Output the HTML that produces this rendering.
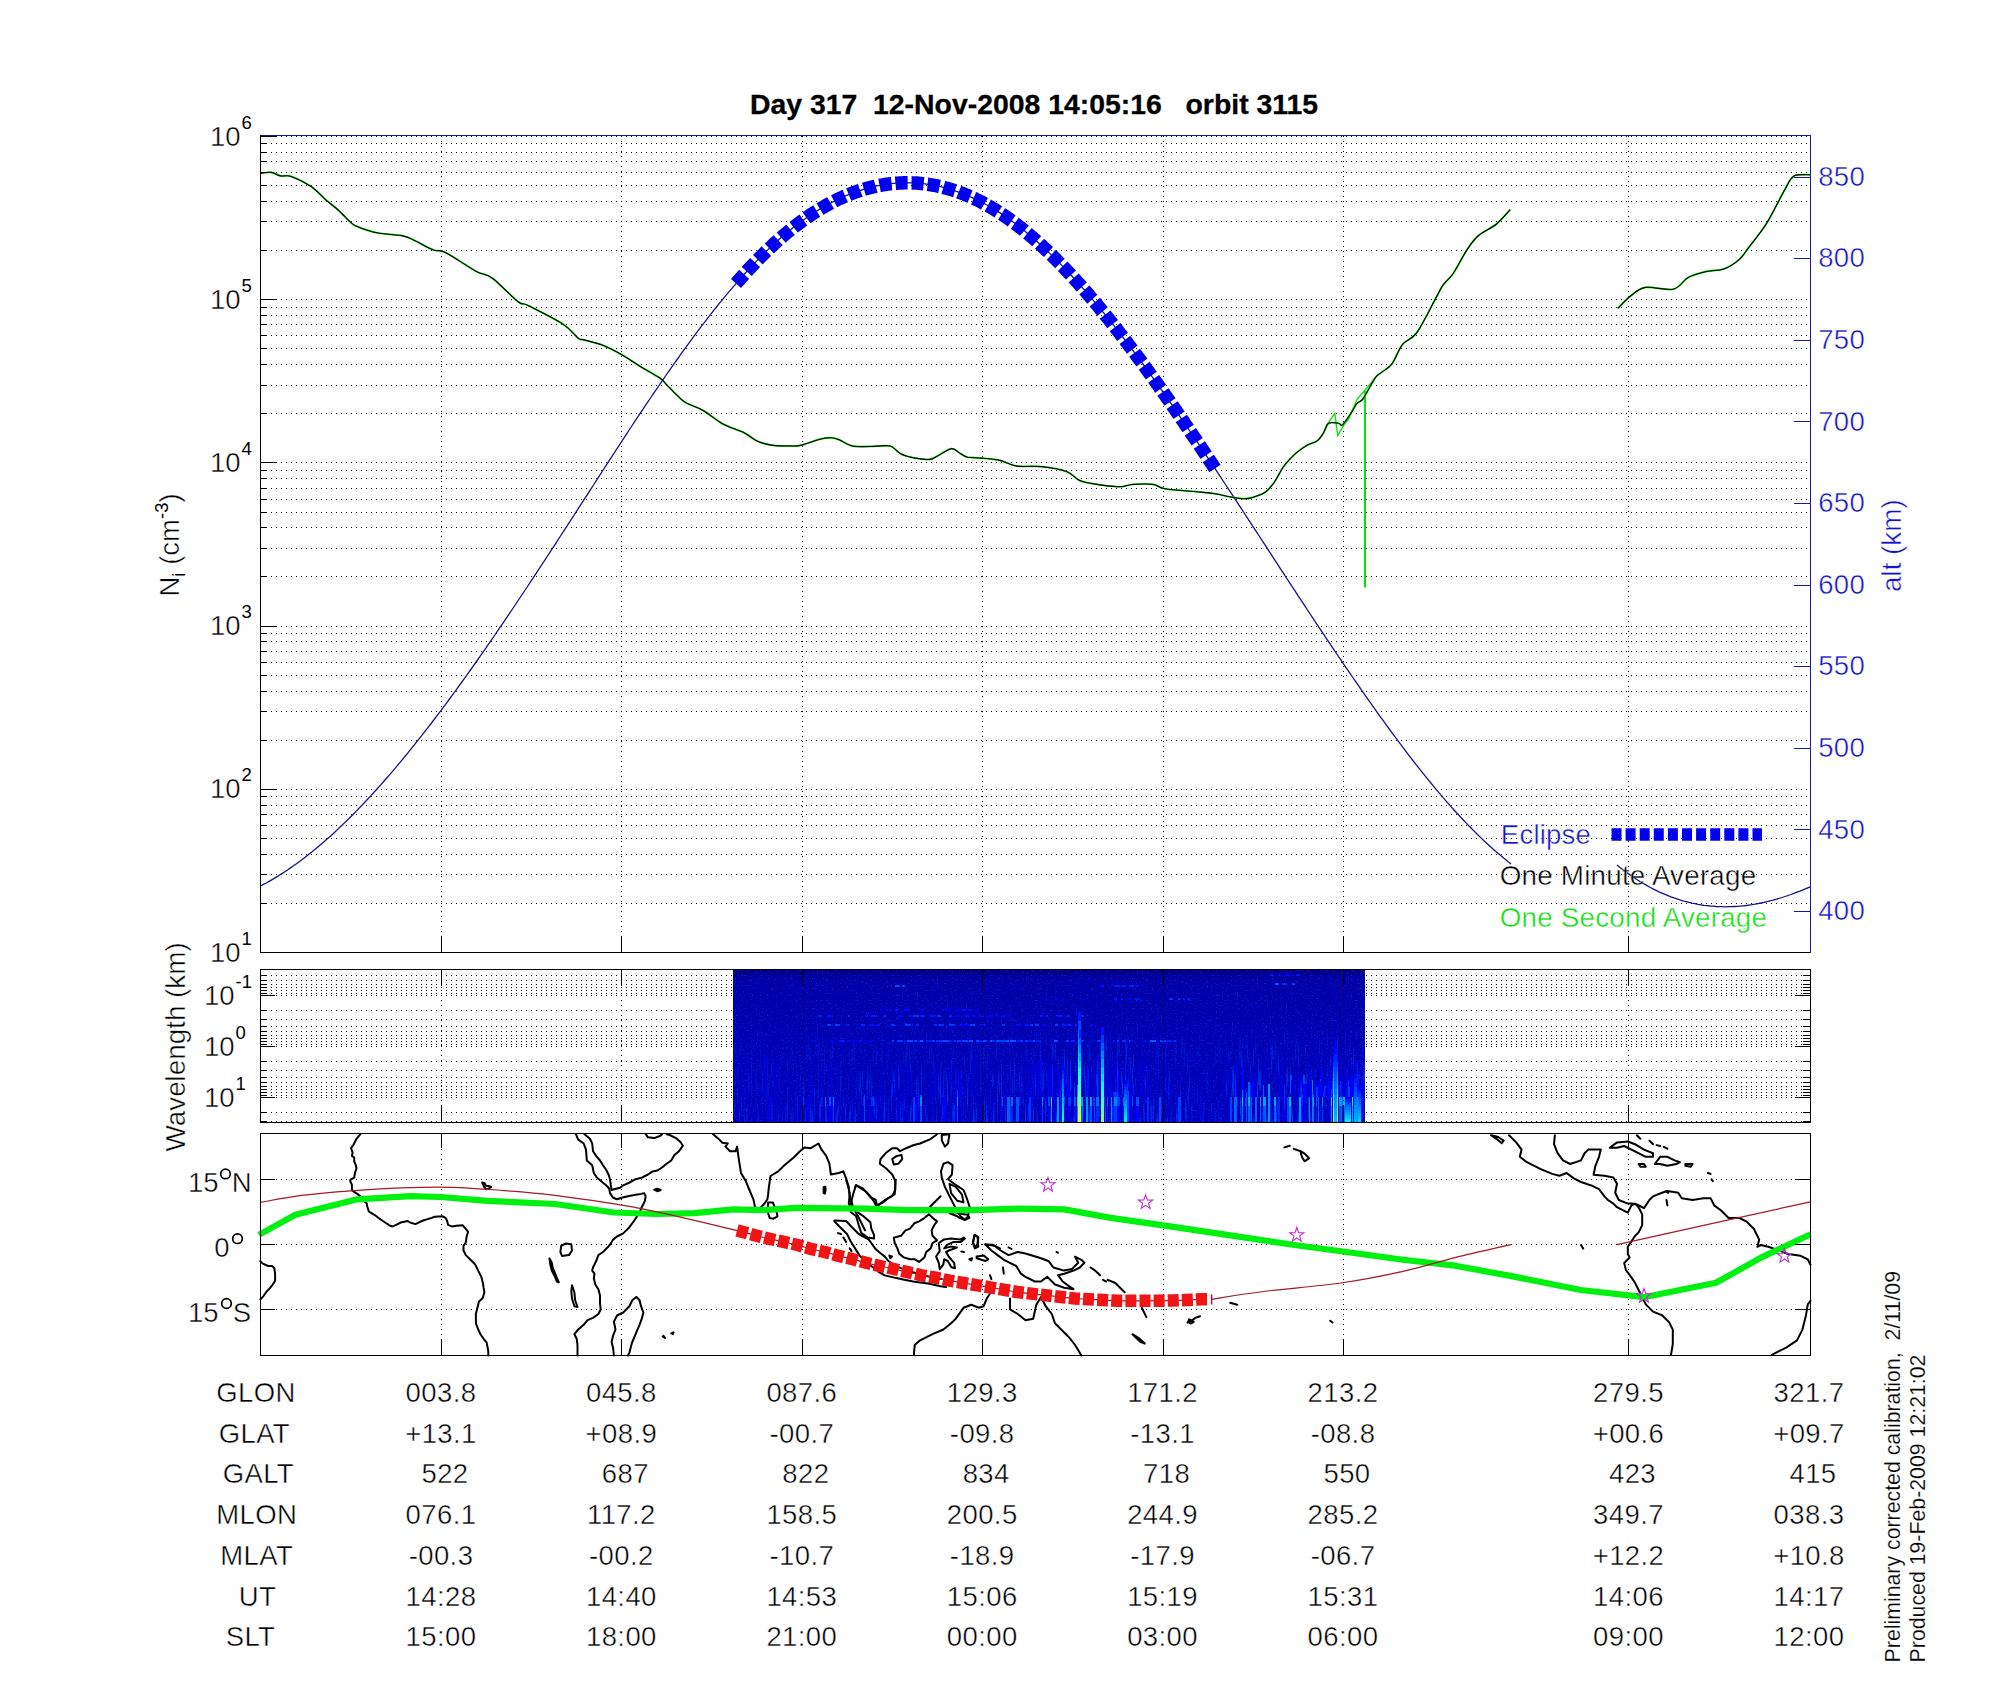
<!DOCTYPE html>
<html><head><meta charset="utf-8"><style>html,body{margin:0;padding:0;background:#fff;overflow:hidden}svg{display:block}</style></head><body>
<svg width="2000" height="1700" viewBox="0 0 2000 1700" font-family="'Liberation Sans', sans-serif">
<style>text{stroke:#fff;stroke-width:0.45px}text.ttl{stroke:#000;stroke-width:0.3px}.sm{stroke:none}text.xs{stroke-width:0.2px}</style>
<rect width="2000" height="1700" fill="#fff"/>
<text class="ttl" x="1034" y="113.5" text-anchor="middle" font-size="28.4" font-weight="bold" xml:space="preserve">Day 317  12-Nov-2008 14:05:16   orbit 3115</text>
<g id="topgrid"><line x1="261" y1="952.5" x2="1810" y2="952.5" stroke="#000" stroke-width="1" stroke-dasharray="1 4" shape-rendering="crispEdges"/><line x1="261" y1="903.5" x2="1810" y2="903.5" stroke="#000" stroke-width="1" stroke-dasharray="1 4" shape-rendering="crispEdges"/><line x1="261" y1="874.5" x2="1810" y2="874.5" stroke="#000" stroke-width="1" stroke-dasharray="1 4" shape-rendering="crispEdges"/><line x1="261" y1="854.5" x2="1810" y2="854.5" stroke="#000" stroke-width="1" stroke-dasharray="1 4" shape-rendering="crispEdges"/><line x1="261" y1="838.5" x2="1810" y2="838.5" stroke="#000" stroke-width="1" stroke-dasharray="1 4" shape-rendering="crispEdges"/><line x1="261" y1="825.5" x2="1810" y2="825.5" stroke="#000" stroke-width="1" stroke-dasharray="1 4" shape-rendering="crispEdges"/><line x1="261" y1="814.5" x2="1810" y2="814.5" stroke="#000" stroke-width="1" stroke-dasharray="1 4" shape-rendering="crispEdges"/><line x1="261" y1="805.5" x2="1810" y2="805.5" stroke="#000" stroke-width="1" stroke-dasharray="1 4" shape-rendering="crispEdges"/><line x1="261" y1="796.5" x2="1810" y2="796.5" stroke="#000" stroke-width="1" stroke-dasharray="1 4" shape-rendering="crispEdges"/><line x1="261" y1="789.5" x2="1810" y2="789.5" stroke="#000" stroke-width="1" stroke-dasharray="1 4" shape-rendering="crispEdges"/><line x1="261" y1="740.5" x2="1810" y2="740.5" stroke="#000" stroke-width="1" stroke-dasharray="1 4" shape-rendering="crispEdges"/><line x1="261" y1="711.5" x2="1810" y2="711.5" stroke="#000" stroke-width="1" stroke-dasharray="1 4" shape-rendering="crispEdges"/><line x1="261" y1="691.5" x2="1810" y2="691.5" stroke="#000" stroke-width="1" stroke-dasharray="1 4" shape-rendering="crispEdges"/><line x1="261" y1="675.5" x2="1810" y2="675.5" stroke="#000" stroke-width="1" stroke-dasharray="1 4" shape-rendering="crispEdges"/><line x1="261" y1="662.5" x2="1810" y2="662.5" stroke="#000" stroke-width="1" stroke-dasharray="1 4" shape-rendering="crispEdges"/><line x1="261" y1="651.5" x2="1810" y2="651.5" stroke="#000" stroke-width="1" stroke-dasharray="1 4" shape-rendering="crispEdges"/><line x1="261" y1="641.5" x2="1810" y2="641.5" stroke="#000" stroke-width="1" stroke-dasharray="1 4" shape-rendering="crispEdges"/><line x1="261" y1="633.5" x2="1810" y2="633.5" stroke="#000" stroke-width="1" stroke-dasharray="1 4" shape-rendering="crispEdges"/><line x1="261" y1="626.5" x2="1810" y2="626.5" stroke="#000" stroke-width="1" stroke-dasharray="1 4" shape-rendering="crispEdges"/><line x1="261" y1="576.5" x2="1810" y2="576.5" stroke="#000" stroke-width="1" stroke-dasharray="1 4" shape-rendering="crispEdges"/><line x1="261" y1="548.5" x2="1810" y2="548.5" stroke="#000" stroke-width="1" stroke-dasharray="1 4" shape-rendering="crispEdges"/><line x1="261" y1="527.5" x2="1810" y2="527.5" stroke="#000" stroke-width="1" stroke-dasharray="1 4" shape-rendering="crispEdges"/><line x1="261" y1="512.5" x2="1810" y2="512.5" stroke="#000" stroke-width="1" stroke-dasharray="1 4" shape-rendering="crispEdges"/><line x1="261" y1="499.5" x2="1810" y2="499.5" stroke="#000" stroke-width="1" stroke-dasharray="1 4" shape-rendering="crispEdges"/><line x1="261" y1="488.5" x2="1810" y2="488.5" stroke="#000" stroke-width="1" stroke-dasharray="1 4" shape-rendering="crispEdges"/><line x1="261" y1="478.5" x2="1810" y2="478.5" stroke="#000" stroke-width="1" stroke-dasharray="1 4" shape-rendering="crispEdges"/><line x1="261" y1="470.5" x2="1810" y2="470.5" stroke="#000" stroke-width="1" stroke-dasharray="1 4" shape-rendering="crispEdges"/><line x1="261" y1="462.5" x2="1810" y2="462.5" stroke="#000" stroke-width="1" stroke-dasharray="1 4" shape-rendering="crispEdges"/><line x1="261" y1="413.5" x2="1810" y2="413.5" stroke="#000" stroke-width="1" stroke-dasharray="1 4" shape-rendering="crispEdges"/><line x1="261" y1="385.5" x2="1810" y2="385.5" stroke="#000" stroke-width="1" stroke-dasharray="1 4" shape-rendering="crispEdges"/><line x1="261" y1="364.5" x2="1810" y2="364.5" stroke="#000" stroke-width="1" stroke-dasharray="1 4" shape-rendering="crispEdges"/><line x1="261" y1="348.5" x2="1810" y2="348.5" stroke="#000" stroke-width="1" stroke-dasharray="1 4" shape-rendering="crispEdges"/><line x1="261" y1="335.5" x2="1810" y2="335.5" stroke="#000" stroke-width="1" stroke-dasharray="1 4" shape-rendering="crispEdges"/><line x1="261" y1="324.5" x2="1810" y2="324.5" stroke="#000" stroke-width="1" stroke-dasharray="1 4" shape-rendering="crispEdges"/><line x1="261" y1="315.5" x2="1810" y2="315.5" stroke="#000" stroke-width="1" stroke-dasharray="1 4" shape-rendering="crispEdges"/><line x1="261" y1="307.5" x2="1810" y2="307.5" stroke="#000" stroke-width="1" stroke-dasharray="1 4" shape-rendering="crispEdges"/><line x1="261" y1="299.5" x2="1810" y2="299.5" stroke="#000" stroke-width="1" stroke-dasharray="1 4" shape-rendering="crispEdges"/><line x1="261" y1="250.5" x2="1810" y2="250.5" stroke="#000" stroke-width="1" stroke-dasharray="1 4" shape-rendering="crispEdges"/><line x1="261" y1="221.5" x2="1810" y2="221.5" stroke="#000" stroke-width="1" stroke-dasharray="1 4" shape-rendering="crispEdges"/><line x1="261" y1="201.5" x2="1810" y2="201.5" stroke="#000" stroke-width="1" stroke-dasharray="1 4" shape-rendering="crispEdges"/><line x1="261" y1="185.5" x2="1810" y2="185.5" stroke="#000" stroke-width="1" stroke-dasharray="1 4" shape-rendering="crispEdges"/><line x1="261" y1="172.5" x2="1810" y2="172.5" stroke="#000" stroke-width="1" stroke-dasharray="1 4" shape-rendering="crispEdges"/><line x1="261" y1="161.5" x2="1810" y2="161.5" stroke="#000" stroke-width="1" stroke-dasharray="1 4" shape-rendering="crispEdges"/><line x1="261" y1="152.5" x2="1810" y2="152.5" stroke="#000" stroke-width="1" stroke-dasharray="1 4" shape-rendering="crispEdges"/><line x1="261" y1="143.5" x2="1810" y2="143.5" stroke="#000" stroke-width="1" stroke-dasharray="1 4" shape-rendering="crispEdges"/><line x1="261" y1="136.5" x2="1810" y2="136.5" stroke="#000" stroke-width="1" stroke-dasharray="1 4" shape-rendering="crispEdges"/><line x1="441.5" y1="136" x2="441.5" y2="952" stroke="#000" stroke-width="1" stroke-dasharray="1 4" shape-rendering="crispEdges"/><line x1="621.5" y1="136" x2="621.5" y2="952" stroke="#000" stroke-width="1" stroke-dasharray="1 4" shape-rendering="crispEdges"/><line x1="802.5" y1="136" x2="802.5" y2="952" stroke="#000" stroke-width="1" stroke-dasharray="1 4" shape-rendering="crispEdges"/><line x1="982.5" y1="136" x2="982.5" y2="952" stroke="#000" stroke-width="1" stroke-dasharray="1 4" shape-rendering="crispEdges"/><line x1="1163.5" y1="136" x2="1163.5" y2="952" stroke="#000" stroke-width="1" stroke-dasharray="1 4" shape-rendering="crispEdges"/><line x1="1343.5" y1="136" x2="1343.5" y2="952" stroke="#000" stroke-width="1" stroke-dasharray="1 4" shape-rendering="crispEdges"/><line x1="1628.5" y1="136" x2="1628.5" y2="952" stroke="#000" stroke-width="1" stroke-dasharray="1 4" shape-rendering="crispEdges"/></g>
<g id="topcurves"><path d="M260.5,886.0 L263.5,884.4 L266.5,882.8 L269.5,881.1 L272.5,879.4 L275.5,877.6 L278.5,875.8 L281.5,873.9 L284.5,872.0 L287.5,870.0 L290.5,867.9 L293.5,865.8 L296.5,863.7 L299.5,861.5 L302.5,859.3 L305.5,857.0 L308.5,854.6 L311.5,852.2 L314.5,849.8 L317.5,847.3 L320.5,844.8 L323.5,842.2 L326.5,839.6 L329.5,836.9 L332.5,834.2 L335.5,831.4 L338.5,828.6 L341.5,825.8 L344.5,822.9 L347.5,820.0 L350.5,817.0 L353.5,814.0 L356.5,810.9 L359.5,807.8 L362.5,804.7 L365.5,801.5 L368.5,798.3 L371.5,795.1 L374.5,791.8 L377.5,788.5 L380.5,785.1 L383.5,781.7 L386.5,778.3 L389.5,774.8 L392.5,771.3 L395.5,767.8 L398.5,764.2 L401.5,760.6 L404.5,757.0 L407.5,753.4 L410.5,749.7 L413.5,745.9 L416.5,742.2 L419.5,738.4 L422.5,734.6 L425.5,730.7 L428.5,726.9 L431.5,723.0 L434.5,719.0 L437.5,715.1 L440.5,711.1 L443.5,707.1 L446.5,703.1 L449.5,699.0 L452.5,694.9 L455.5,690.8 L458.5,686.7 L461.5,682.5 L464.5,678.4 L467.5,674.2 L470.5,670.0 L473.5,665.7 L476.5,661.5 L479.5,657.2 L482.5,652.9 L485.5,648.6 L488.5,644.2 L491.5,639.9 L494.5,635.5 L497.5,631.1 L500.5,626.7 L503.5,622.3 L506.5,617.9 L509.5,613.4 L512.5,609.0 L515.5,604.5 L518.5,600.0 L521.5,595.5 L524.5,591.0 L527.5,586.5 L530.5,581.9 L533.5,577.4 L536.5,572.8 L539.5,568.2 L542.5,563.7 L545.5,559.1 L548.5,554.5 L551.5,549.9 L554.5,545.3 L557.5,540.7 L560.5,536.0 L563.5,531.4 L566.5,526.8 L569.5,522.2 L572.5,517.5 L575.5,512.9 L578.5,508.2 L581.5,503.6 L584.5,498.9 L587.5,494.3 L590.5,489.6 L593.5,485.0 L596.5,480.3 L599.5,475.7 L602.5,471.0 L605.5,466.4 L608.5,461.7 L611.5,457.1 L614.5,452.5 L617.5,447.9 L620.5,443.3 L623.5,438.7 L626.5,434.1 L629.5,429.5 L632.5,425.0 L635.5,420.4 L638.5,415.9 L641.5,411.4 L644.5,406.9 L647.5,402.4 L650.5,398.0 L653.5,393.6 L656.5,389.1 L659.5,384.8 L662.5,380.4 L665.5,376.0 L668.5,371.7 L671.5,367.4 L674.5,363.2 L677.5,359.0 L680.5,354.7 L683.5,350.6 L686.5,346.4 L689.5,342.3 L692.5,338.2 L695.5,334.2 L698.5,330.2 L701.5,326.2 L704.5,322.3 L707.5,318.4 L710.5,314.6 L713.5,310.7 L716.5,307.0 L719.5,303.2 L722.5,299.6 L725.5,295.9 L728.5,292.3 L731.5,288.8 L734.5,285.3 L737.5,281.8 L740.5,278.4 L743.5,275.0 L746.5,271.7 L749.5,268.5 L752.5,265.3 L755.5,262.1 L758.5,259.1 L761.5,256.0 L764.5,253.1 L767.5,250.1 L770.5,247.3 L773.5,244.5 L776.5,241.7 L779.5,239.1 L782.5,236.5 L785.5,233.9 L788.5,231.4 L791.5,229.0 L794.5,226.6 L797.5,224.3 L800.5,222.1 L803.5,219.9 L806.5,217.8 L809.5,215.7 L812.5,213.7 L815.5,211.8 L818.5,209.9 L821.5,208.1 L824.5,206.4 L827.5,204.7 L830.5,203.1 L833.5,201.5 L836.5,200.0 L839.5,198.6 L842.5,197.2 L845.5,195.9 L848.5,194.7 L851.5,193.5 L854.5,192.4 L857.5,191.3 L860.5,190.3 L863.5,189.4 L866.5,188.5 L869.5,187.7 L872.5,186.9 L875.5,186.2 L878.5,185.6 L881.5,185.1 L884.5,184.6 L887.5,184.1 L890.5,183.7 L893.5,183.4 L896.5,183.2 L899.5,183.0 L902.5,182.9 L905.5,182.8 L908.5,182.8 L911.5,182.9 L914.5,183.0 L917.5,183.2 L920.5,183.4 L923.5,183.7 L926.5,184.1 L929.5,184.6 L932.5,185.1 L935.5,185.6 L938.5,186.2 L941.5,186.9 L944.5,187.7 L947.5,188.5 L950.5,189.4 L953.5,190.3 L956.5,191.3 L959.5,192.4 L962.5,193.5 L965.5,194.7 L968.5,196.0 L971.5,197.3 L974.5,198.6 L977.5,200.1 L980.5,201.6 L983.5,203.2 L986.5,204.8 L989.5,206.5 L992.5,208.2 L995.5,210.1 L998.5,211.9 L1001.5,213.9 L1004.5,215.9 L1007.5,218.0 L1010.5,220.1 L1013.5,222.3 L1016.5,224.5 L1019.5,226.9 L1022.5,229.2 L1025.5,231.7 L1028.5,234.2 L1031.5,236.7 L1034.5,239.3 L1037.5,242.0 L1040.5,244.7 L1043.5,247.4 L1046.5,250.2 L1049.5,253.1 L1052.5,256.0 L1055.5,259.0 L1058.5,262.0 L1061.5,265.1 L1064.5,268.2 L1067.5,271.4 L1070.5,274.6 L1073.5,277.8 L1076.5,281.1 L1079.5,284.5 L1082.5,287.9 L1085.5,291.3 L1088.5,294.8 L1091.5,298.3 L1094.5,301.8 L1097.5,305.4 L1100.5,309.0 L1103.5,312.7 L1106.5,316.4 L1109.5,320.1 L1112.5,323.9 L1115.5,327.7 L1118.5,331.6 L1121.5,335.5 L1124.5,339.4 L1127.5,343.3 L1130.5,347.3 L1133.5,351.3 L1136.5,355.3 L1139.5,359.4 L1142.5,363.5 L1145.5,367.6 L1148.5,371.7 L1151.5,375.9 L1154.5,380.1 L1157.5,384.3 L1160.5,388.5 L1163.5,392.8 L1166.5,397.1 L1169.5,401.4 L1172.5,405.7 L1175.5,410.0 L1178.5,414.4 L1181.5,418.8 L1184.5,423.2 L1187.5,427.6 L1190.5,432.0 L1193.5,436.4 L1196.5,440.9 L1199.5,445.3 L1202.5,449.8 L1205.5,454.3 L1208.5,458.8 L1211.5,463.3 L1214.5,467.8 L1217.5,472.4 L1220.5,476.9 L1223.5,481.5 L1226.5,486.0 L1229.5,490.6 L1232.5,495.2 L1235.5,499.7 L1238.5,504.3 L1241.5,508.9 L1244.5,513.5 L1247.5,518.1 L1250.5,522.7 L1253.5,527.3 L1256.5,531.9 L1259.5,536.5 L1262.5,541.1 L1265.5,545.7 L1268.5,550.3 L1271.5,554.9 L1274.5,559.6 L1277.5,564.2 L1280.5,568.8 L1283.5,573.4 L1286.5,578.0 L1289.5,582.6 L1292.5,587.1 L1295.5,591.7 L1298.5,596.3 L1301.5,600.9 L1304.5,605.4 L1307.5,610.0 L1310.5,614.5 L1313.5,619.1 L1316.5,623.6 L1319.5,628.1 L1322.5,632.6 L1325.5,637.1 L1328.5,641.6 L1331.5,646.1 L1334.5,650.6 L1337.5,655.0 L1340.5,659.4 L1343.5,663.9 L1346.5,668.3 L1349.5,672.7 L1352.5,677.0 L1355.5,681.4 L1358.5,685.7 L1361.5,690.1 L1364.5,694.4 L1367.5,698.7 L1370.5,702.9 L1373.5,707.2 L1376.5,711.4 L1379.5,715.6 L1382.5,719.7 L1385.5,723.9 L1388.5,728.0 L1391.5,732.1 L1394.5,736.2 L1397.5,740.2 L1400.5,744.2 L1403.5,748.2 L1406.5,752.2 L1409.5,756.1 L1412.5,760.0 L1415.5,763.8 L1418.5,767.6 L1421.5,771.4 L1424.5,775.2 L1427.5,778.9 L1430.5,782.5 L1433.5,786.2 L1436.5,789.8 L1439.5,793.3 L1442.5,796.8 L1445.5,800.3 L1448.5,803.7 L1451.5,807.1 L1454.5,810.5 L1457.5,813.8 L1460.5,817.0 L1463.5,820.2 L1466.5,823.4 L1469.5,826.5 L1472.5,829.5 L1475.5,832.5 L1478.5,835.5 L1481.5,838.4 L1484.5,841.2 L1487.5,844.0 L1490.5,846.8 L1493.5,849.4 L1496.5,852.1 L1499.5,854.6 L1502.5,857.1 L1505.5,859.6 L1508.5,862.0 L1511.0,863.9" fill="none" stroke="#14148c" stroke-width="1.3"/>
<path d="M1617.0,865.0 L1620.0,867.4 L1623.0,869.7 L1626.0,872.0 L1629.0,874.1 L1632.0,876.2 L1635.0,878.3 L1638.0,880.2 L1641.0,882.1 L1644.0,883.9 L1647.0,885.6 L1650.0,887.2 L1653.0,888.8 L1656.0,890.3 L1659.0,891.8 L1662.0,893.1 L1665.0,894.4 L1668.0,895.6 L1671.0,896.8 L1674.0,897.9 L1677.0,898.9 L1680.0,899.9 L1683.0,900.8 L1686.0,901.6 L1689.0,902.4 L1692.0,903.1 L1695.0,903.7 L1698.0,904.3 L1701.0,904.8 L1704.0,905.3 L1707.0,905.6 L1710.0,906.0 L1713.0,906.2 L1716.0,906.5 L1719.0,906.6 L1722.0,906.7 L1725.0,906.8 L1728.0,906.7 L1731.0,906.7 L1734.0,906.5 L1737.0,906.4 L1740.0,906.1 L1743.0,905.8 L1746.0,905.5 L1749.0,905.1 L1752.0,904.7 L1755.0,904.2 L1758.0,903.6 L1761.0,903.0 L1764.0,902.4 L1767.0,901.7 L1770.0,900.9 L1773.0,900.2 L1776.0,899.3 L1779.0,898.4 L1782.0,897.5 L1785.0,896.5 L1788.0,895.5 L1791.0,894.5 L1794.0,893.4 L1797.0,892.2 L1800.0,891.1 L1803.0,889.8 L1806.0,888.6 L1809.0,887.3 L1810.0,886.8" fill="none" stroke="#14148c" stroke-width="1.3"/>
<path d="M1215.0,468.6 L1214.0,467.1 L1213.0,465.6 L1212.0,464.1 L1211.0,462.6 L1210.0,461.1 L1209.0,459.6 L1208.0,458.1 L1207.0,456.6 L1206.0,455.1 L1205.0,453.6 L1204.0,452.1 L1203.0,450.6 L1202.0,449.1 L1201.0,447.6 L1200.0,446.1 L1199.0,444.6 L1198.0,443.1 L1197.0,441.6 L1196.0,440.1 L1195.0,438.6 L1194.0,437.2 L1193.0,435.7 L1192.0,434.2 L1191.0,432.7 L1190.0,431.2 L1189.0,429.8 L1188.0,428.3 L1187.0,426.8 L1186.0,425.4 L1185.0,423.9 L1184.0,422.4 L1183.0,421.0 L1182.0,419.5 L1181.0,418.0 L1180.0,416.6 L1179.0,415.1 L1178.0,413.7 L1177.0,412.2 L1176.0,410.7 L1175.0,409.3 L1174.0,407.9 L1173.0,406.4 L1172.0,405.0 L1171.0,403.5 L1170.0,402.1 L1169.0,400.6 L1168.0,399.2 L1167.0,397.8 L1166.0,396.3 L1165.0,394.9 L1164.0,393.5 L1163.0,392.1 L1162.0,390.6 L1161.0,389.2 L1160.0,387.8 L1159.0,386.4 L1158.0,385.0 L1157.0,383.6 L1156.0,382.2 L1155.0,380.8 L1154.0,379.4 L1153.0,378.0 L1152.0,376.6 L1151.0,375.2 L1150.0,373.8 L1149.0,372.4 L1148.0,371.0 L1147.0,369.6 L1146.0,368.3 L1145.0,366.9 L1144.0,365.5 L1143.0,364.1 L1142.0,362.8 L1141.0,361.4 L1140.0,360.0 L1139.0,358.7 L1138.0,357.3 L1137.0,356.0 L1136.0,354.6 L1135.0,353.3 L1134.0,351.9 L1133.0,350.6 L1132.0,349.3 L1131.0,347.9 L1130.0,346.6 L1129.0,345.3 L1128.0,344.0 L1127.0,342.6 L1126.0,341.3 L1125.0,340.0 L1124.0,338.7 L1123.0,337.4 L1122.0,336.1 L1121.0,334.8 L1120.0,333.5 L1119.0,332.2 L1118.0,330.9 L1117.0,329.6 L1116.0,328.4 L1115.0,327.1 L1114.0,325.8 L1113.0,324.6 L1112.0,323.3 L1111.0,322.0 L1110.0,320.8 L1109.0,319.5 L1108.0,318.3 L1107.0,317.0 L1106.0,315.8 L1105.0,314.5 L1104.0,313.3 L1103.0,312.1 L1102.0,310.9 L1101.0,309.6 L1100.0,308.4 L1099.0,307.2 L1098.0,306.0 L1097.0,304.8 L1096.0,303.6 L1095.0,302.4 L1094.0,301.2 L1093.0,300.0 L1092.0,298.9 L1091.0,297.7 L1090.0,296.5 L1089.0,295.3 L1088.0,294.2 L1087.0,293.0 L1086.0,291.9 L1085.0,290.7 L1084.0,289.6 L1083.0,288.4 L1082.0,287.3 L1081.0,286.2 L1080.0,285.0 L1079.0,283.9 L1078.0,282.8 L1077.0,281.7 L1076.0,280.6 L1075.0,279.5 L1074.0,278.4 L1073.0,277.3 L1072.0,276.2 L1071.0,275.1 L1070.0,274.0 L1069.0,273.0 L1068.0,271.9 L1067.0,270.8 L1066.0,269.8 L1065.0,268.7 L1064.0,267.7 L1063.0,266.6 L1062.0,265.6 L1061.0,264.6 L1060.0,263.5 L1059.0,262.5 L1058.0,261.5 L1057.0,260.5 L1056.0,259.5 L1055.0,258.5 L1054.0,257.5 L1053.0,256.5 L1052.0,255.5 L1051.0,254.6 L1050.0,253.6 L1049.0,252.6 L1048.0,251.7 L1047.0,250.7 L1046.0,249.8 L1045.0,248.8 L1044.0,247.9 L1043.0,247.0 L1042.0,246.0 L1041.0,245.1 L1040.0,244.2 L1039.0,243.3 L1038.0,242.4 L1037.0,241.5 L1036.0,240.6 L1035.0,239.7 L1034.0,238.9 L1033.0,238.0 L1032.0,237.1 L1031.0,236.3 L1030.0,235.4 L1029.0,234.6 L1028.0,233.7 L1027.0,232.9 L1026.0,232.1 L1025.0,231.3 L1024.0,230.4 L1023.0,229.6 L1022.0,228.8 L1021.0,228.0 L1020.0,227.3 L1019.0,226.5 L1018.0,225.7 L1017.0,224.9 L1016.0,224.2 L1015.0,223.4 L1014.0,222.7 L1013.0,221.9 L1012.0,221.2 L1011.0,220.5 L1010.0,219.7 L1009.0,219.0 L1008.0,218.3 L1007.0,217.6 L1006.0,216.9 L1005.0,216.2 L1004.0,215.6 L1003.0,214.9 L1002.0,214.2 L1001.0,213.6 L1000.0,212.9 L999.0,212.3 L998.0,211.6 L997.0,211.0 L996.0,210.4 L995.0,209.8 L994.0,209.1 L993.0,208.5 L992.0,207.9 L991.0,207.4 L990.0,206.8 L989.0,206.2 L988.0,205.6 L987.0,205.1 L986.0,204.5 L985.0,204.0 L984.0,203.4 L983.0,202.9 L982.0,202.4 L981.0,201.9 L980.0,201.3 L979.0,200.8 L978.0,200.3 L977.0,199.8 L976.0,199.4 L975.0,198.9 L974.0,198.4 L973.0,198.0 L972.0,197.5 L971.0,197.0 L970.0,196.6 L969.0,196.2 L968.0,195.7 L967.0,195.3 L966.0,194.9 L965.0,194.5 L964.0,194.1 L963.0,193.7 L962.0,193.3 L961.0,192.9 L960.0,192.6 L959.0,192.2 L958.0,191.8 L957.0,191.5 L956.0,191.1 L955.0,190.8 L954.0,190.5 L953.0,190.2 L952.0,189.8 L951.0,189.5 L950.0,189.2 L949.0,188.9 L948.0,188.6 L947.0,188.4 L946.0,188.1 L945.0,187.8 L944.0,187.6 L943.0,187.3 L942.0,187.1 L941.0,186.8 L940.0,186.6 L939.0,186.4 L938.0,186.1 L937.0,185.9 L936.0,185.7 L935.0,185.5 L934.0,185.3 L933.0,185.1 L932.0,185.0 L931.0,184.8 L930.0,184.6 L929.0,184.5 L928.0,184.3 L927.0,184.2 L926.0,184.1 L925.0,183.9 L924.0,183.8 L923.0,183.7 L922.0,183.6 L921.0,183.5 L920.0,183.4 L919.0,183.3 L918.0,183.2 L917.0,183.1 L916.0,183.1 L915.0,183.0 L914.0,183.0 L913.0,182.9 L912.0,182.9 L911.0,182.9 L910.0,182.8 L909.0,182.8 L908.0,182.8 L907.0,182.8 L906.0,182.8 L905.0,182.8 L904.0,182.8 L903.0,182.9 L902.0,182.9 L901.0,182.9 L900.0,183.0 L899.0,183.0 L898.0,183.1 L897.0,183.2 L896.0,183.2 L895.0,183.3 L894.0,183.4 L893.0,183.5 L892.0,183.6 L891.0,183.7 L890.0,183.8 L889.0,183.9 L888.0,184.1 L887.0,184.2 L886.0,184.3 L885.0,184.5 L884.0,184.6 L883.0,184.8 L882.0,185.0 L881.0,185.2 L880.0,185.3 L879.0,185.5 L878.0,185.7 L877.0,185.9 L876.0,186.1 L875.0,186.4 L874.0,186.6 L873.0,186.8 L872.0,187.1 L871.0,187.3 L870.0,187.6 L869.0,187.8 L868.0,188.1 L867.0,188.4 L866.0,188.6 L865.0,188.9 L864.0,189.2 L863.0,189.5 L862.0,189.8 L861.0,190.1 L860.0,190.5 L859.0,190.8 L858.0,191.1 L857.0,191.5 L856.0,191.8 L855.0,192.2 L854.0,192.5 L853.0,192.9 L852.0,193.3 L851.0,193.7 L850.0,194.1 L849.0,194.5 L848.0,194.9 L847.0,195.3 L846.0,195.7 L845.0,196.1 L844.0,196.6 L843.0,197.0 L842.0,197.5 L841.0,197.9 L840.0,198.4 L839.0,198.8 L838.0,199.3 L837.0,199.8 L836.0,200.3 L835.0,200.8 L834.0,201.3 L833.0,201.8 L832.0,202.3 L831.0,202.8 L830.0,203.4 L829.0,203.9 L828.0,204.4 L827.0,205.0 L826.0,205.5 L825.0,206.1 L824.0,206.7 L823.0,207.3 L822.0,207.8 L821.0,208.4 L820.0,209.0 L819.0,209.6 L818.0,210.3 L817.0,210.9 L816.0,211.5 L815.0,212.1 L814.0,212.8 L813.0,213.4 L812.0,214.1 L811.0,214.7 L810.0,215.4 L809.0,216.1 L808.0,216.8 L807.0,217.4 L806.0,218.1 L805.0,218.8 L804.0,219.6 L803.0,220.3 L802.0,221.0 L801.0,221.7 L800.0,222.5 L799.0,223.2 L798.0,224.0 L797.0,224.7 L796.0,225.5 L795.0,226.2 L794.0,227.0 L793.0,227.8 L792.0,228.6 L791.0,229.4 L790.0,230.2 L789.0,231.0 L788.0,231.8 L787.0,232.7 L786.0,233.5 L785.0,234.3 L784.0,235.2 L783.0,236.0 L782.0,236.9 L781.0,237.8 L780.0,238.6 L779.0,239.5 L778.0,240.4 L777.0,241.3 L776.0,242.2 L775.0,243.1 L774.0,244.0 L773.0,244.9 L772.0,245.9 L771.0,246.8 L770.0,247.8 L769.0,248.7 L768.0,249.7 L767.0,250.6 L766.0,251.6 L765.0,252.6 L764.0,253.5 L763.0,254.5 L762.0,255.5 L761.0,256.5 L760.0,257.5 L759.0,258.6 L758.0,259.6 L757.0,260.6 L756.0,261.6 L755.0,262.7 L754.0,263.7 L753.0,264.8 L752.0,265.8 L751.0,266.9 L750.0,268.0 L749.0,269.0 L748.0,270.1 L747.0,271.2 L746.0,272.3 L745.0,273.4 L744.0,274.5 L743.0,275.6 L742.0,276.7 L741.0,277.8 L740.0,279.0 L739.0,280.1 L738.0,281.2 L737.0,282.4 L736.0,283.5 L735.0,284.7 L734.0,285.8" fill="none" stroke="#0000ee" stroke-width="13.5" stroke-dasharray="12.2 3.9"/>
<path d="M260.6,173.1 C262.4,173.0 267.9,171.9 271.2,172.4 C274.5,172.9 277.3,175.2 280.6,175.9 C283.9,176.6 286.1,174.6 291.2,176.4 C296.3,178.2 305.5,182.7 311.2,186.5 C316.9,190.3 320.8,195.5 325.3,199.4 C329.8,203.3 333.9,206.1 338.2,210.0 C342.5,213.9 347.9,220.1 351.2,222.9 C354.5,225.7 353.9,225.2 358.2,226.9 C362.5,228.6 369.7,231.3 377.1,232.8 C384.6,234.3 396.6,234.6 402.9,235.9 C409.2,237.2 409.6,238.2 414.7,240.6 C419.8,242.9 428.4,248.0 433.5,250.0 C438.6,252.0 438.2,248.9 445.3,252.4 C452.4,255.9 468.0,266.9 475.9,271.2 C483.8,275.5 485.3,273.1 492.4,278.2 C499.4,283.3 512.3,297.3 518.2,301.8 C524.1,306.3 520.2,301.6 527.6,305.3 C535.0,309.0 554.5,318.6 562.9,324.1 C571.3,329.6 574.7,335.6 578.2,338.2 C581.7,340.8 580.0,338.7 584.1,339.9 C588.2,341.1 596.6,342.8 602.9,345.3 C609.2,347.8 615.6,351.2 621.8,354.7 C628.0,358.2 633.7,362.4 640.0,366.3 C646.3,370.2 655.3,374.9 659.8,378.0 C664.3,381.1 663.7,381.9 667.0,385.2 C670.3,388.5 676.3,394.8 679.6,397.8 C682.9,400.8 682.9,401.1 686.8,403.2 C690.7,405.3 697.0,406.9 703.0,410.4 C709.0,413.8 715.9,420.1 722.8,423.9 C729.7,427.6 738.7,430.0 744.4,432.9 C750.1,435.8 752.5,439.0 757.0,441.0 C761.5,443.0 765.4,444.3 771.4,445.1 C777.4,445.9 787.9,446.0 793.0,446.0 C798.1,446.0 797.5,446.1 802.0,445.0 C806.5,443.9 815.0,440.4 820.0,439.2 C825.0,438.0 828.4,437.6 831.7,437.8 C835.0,438.0 836.3,438.7 839.8,440.1 C843.2,441.5 846.7,444.9 852.4,446.0 C858.1,447.1 867.7,446.4 874.0,446.4 C880.3,446.4 885.7,444.7 890.2,446.0 C894.7,447.3 896.8,452.0 901.0,454.0 C905.2,456.0 910.6,457.2 915.4,458.1 C920.2,459.0 926.2,459.7 929.8,459.4 C933.4,459.1 933.4,458.1 937.0,456.3 C940.6,454.5 947.5,449.1 951.4,448.6 C955.3,448.2 957.7,452.2 960.4,453.6 C963.1,455.0 964.0,456.4 967.6,457.2 C971.2,457.9 976.6,457.6 982.0,458.1 C987.4,458.6 994.1,459.1 1000.0,460.4 C1005.9,461.7 1010.1,465.1 1017.1,466.1 C1024.1,467.1 1033.6,465.7 1041.8,466.6 C1050.0,467.5 1060.3,469.2 1066.5,471.5 C1072.7,473.8 1074.7,478.1 1078.8,480.1 C1082.9,482.1 1084.6,482.3 1091.2,483.4 C1097.8,484.5 1111.3,486.6 1118.3,486.8 C1125.3,487.0 1127.4,484.8 1133.2,484.4 C1139.0,484.0 1147.6,483.7 1152.9,484.4 C1158.2,485.1 1157.9,487.6 1165.3,488.8 C1172.7,490.0 1189.2,491.0 1197.4,491.8 C1205.6,492.6 1209.3,492.9 1214.7,493.7 C1220.1,494.5 1224.9,496.0 1230.0,496.8 C1235.1,497.6 1241.2,498.7 1245.3,498.7 C1249.4,498.7 1251.2,497.9 1254.5,496.8 C1257.8,495.7 1261.9,494.6 1265.2,492.2 C1268.5,489.8 1271.4,486.3 1274.3,482.2 C1277.2,478.1 1280.2,471.5 1282.8,467.7 C1285.3,463.9 1286.9,462.1 1289.6,459.3 C1292.3,456.5 1295.7,453.3 1298.8,450.9 C1301.9,448.5 1304.9,446.5 1308.0,444.8 C1311.1,443.1 1314.7,442.8 1317.2,440.9 C1319.8,439.0 1321.4,436.2 1323.3,433.3 C1325.2,430.4 1326.0,425.0 1328.6,423.3 C1331.1,421.6 1336.3,423.0 1338.6,423.3 C1340.9,423.6 1340.4,426.5 1342.4,424.9 C1344.4,423.2 1348.4,417.0 1350.8,413.4 C1353.2,409.8 1354.9,405.9 1356.9,403.5 C1358.9,401.1 1360.5,402.3 1363.0,398.9 C1365.5,395.4 1369.9,386.6 1372.2,382.8 C1374.5,379.0 1375.0,377.8 1376.8,375.9 C1378.6,374.0 1380.4,373.4 1382.9,371.4 C1385.5,369.4 1388.8,368.2 1392.1,363.7 C1395.4,359.2 1398.5,349.4 1402.6,344.3 C1406.7,339.2 1411.1,340.5 1416.6,332.9 C1422.1,325.3 1431.1,306.8 1435.5,298.8 C1439.9,290.8 1440.1,289.1 1443.1,284.9 C1446.0,280.7 1449.2,279.4 1453.2,273.5 C1457.2,267.6 1463.0,255.7 1467.2,249.4 C1471.4,243.1 1473.7,239.7 1478.5,235.5 C1483.3,231.3 1490.9,228.5 1496.2,224.2 C1501.5,219.9 1507.9,212.1 1510.2,209.7" fill="none" stroke="#10e010" stroke-width="1.8" stroke-linejoin="round"/>
<path d="M1617.7,308.4 C1619.8,306.4 1625.7,299.7 1630.3,296.2 C1634.9,292.7 1638.3,288.6 1645.5,287.4 C1652.7,286.2 1666.1,290.9 1673.3,289.2 C1680.5,287.5 1683.0,280.2 1688.5,277.3 C1694.0,274.4 1700.3,272.9 1706.2,271.5 C1712.1,270.1 1718.4,270.9 1723.9,268.9 C1729.4,266.9 1734.9,263.3 1739.1,259.6 C1743.3,255.9 1744.6,253.0 1749.2,246.9 C1753.8,240.8 1761.0,232.4 1766.9,222.9 C1772.8,213.4 1780.1,197.8 1784.6,190.0 C1789.1,182.2 1789.8,178.5 1794.0,176.0 C1798.2,173.5 1807.3,175.0 1810.0,174.8" fill="none" stroke="#10e010" stroke-width="1.8" stroke-linejoin="round"/>
<path d="M1323.3,433.3 L1329.4,421.0 L1334.8,413.4 L1337.8,435.6 L1343.9,424.9 L1348.5,419.5 L1356.9,399.6 L1364.6,390.5 L1369.9,384.3 L1376.8,375.9" fill="none" stroke="#10e010" stroke-width="1.4"/>
<line x1="1365" y1="391" x2="1365" y2="587.5" stroke="#10e010" stroke-width="2.2"/>
<path d="M260.6,173.1 C262.4,173.0 267.9,171.9 271.2,172.4 C274.5,172.9 277.3,175.2 280.6,175.9 C283.9,176.6 286.1,174.6 291.2,176.4 C296.3,178.2 305.5,182.7 311.2,186.5 C316.9,190.3 320.8,195.5 325.3,199.4 C329.8,203.3 333.9,206.1 338.2,210.0 C342.5,213.9 347.9,220.1 351.2,222.9 C354.5,225.7 353.9,225.2 358.2,226.9 C362.5,228.6 369.7,231.3 377.1,232.8 C384.6,234.3 396.6,234.6 402.9,235.9 C409.2,237.2 409.6,238.2 414.7,240.6 C419.8,242.9 428.4,248.0 433.5,250.0 C438.6,252.0 438.2,248.9 445.3,252.4 C452.4,255.9 468.0,266.9 475.9,271.2 C483.8,275.5 485.3,273.1 492.4,278.2 C499.4,283.3 512.3,297.3 518.2,301.8 C524.1,306.3 520.2,301.6 527.6,305.3 C535.0,309.0 554.5,318.6 562.9,324.1 C571.3,329.6 574.7,335.6 578.2,338.2 C581.7,340.8 580.0,338.7 584.1,339.9 C588.2,341.1 596.6,342.8 602.9,345.3 C609.2,347.8 615.6,351.2 621.8,354.7 C628.0,358.2 633.7,362.4 640.0,366.3 C646.3,370.2 655.3,374.9 659.8,378.0 C664.3,381.1 663.7,381.9 667.0,385.2 C670.3,388.5 676.3,394.8 679.6,397.8 C682.9,400.8 682.9,401.1 686.8,403.2 C690.7,405.3 697.0,406.9 703.0,410.4 C709.0,413.8 715.9,420.1 722.8,423.9 C729.7,427.6 738.7,430.0 744.4,432.9 C750.1,435.8 752.5,439.0 757.0,441.0 C761.5,443.0 765.4,444.3 771.4,445.1 C777.4,445.9 787.9,446.0 793.0,446.0 C798.1,446.0 797.5,446.1 802.0,445.0 C806.5,443.9 815.0,440.4 820.0,439.2 C825.0,438.0 828.4,437.6 831.7,437.8 C835.0,438.0 836.3,438.7 839.8,440.1 C843.2,441.5 846.7,444.9 852.4,446.0 C858.1,447.1 867.7,446.4 874.0,446.4 C880.3,446.4 885.7,444.7 890.2,446.0 C894.7,447.3 896.8,452.0 901.0,454.0 C905.2,456.0 910.6,457.2 915.4,458.1 C920.2,459.0 926.2,459.7 929.8,459.4 C933.4,459.1 933.4,458.1 937.0,456.3 C940.6,454.5 947.5,449.1 951.4,448.6 C955.3,448.2 957.7,452.2 960.4,453.6 C963.1,455.0 964.0,456.4 967.6,457.2 C971.2,457.9 976.6,457.6 982.0,458.1 C987.4,458.6 994.1,459.1 1000.0,460.4 C1005.9,461.7 1010.1,465.1 1017.1,466.1 C1024.1,467.1 1033.6,465.7 1041.8,466.6 C1050.0,467.5 1060.3,469.2 1066.5,471.5 C1072.7,473.8 1074.7,478.1 1078.8,480.1 C1082.9,482.1 1084.6,482.3 1091.2,483.4 C1097.8,484.5 1111.3,486.6 1118.3,486.8 C1125.3,487.0 1127.4,484.8 1133.2,484.4 C1139.0,484.0 1147.6,483.7 1152.9,484.4 C1158.2,485.1 1157.9,487.6 1165.3,488.8 C1172.7,490.0 1189.2,491.0 1197.4,491.8 C1205.6,492.6 1209.3,492.9 1214.7,493.7 C1220.1,494.5 1224.9,496.0 1230.0,496.8 C1235.1,497.6 1241.2,498.7 1245.3,498.7 C1249.4,498.7 1251.2,497.9 1254.5,496.8 C1257.8,495.7 1261.9,494.6 1265.2,492.2 C1268.5,489.8 1271.4,486.3 1274.3,482.2 C1277.2,478.1 1280.2,471.5 1282.8,467.7 C1285.3,463.9 1286.9,462.1 1289.6,459.3 C1292.3,456.5 1295.7,453.3 1298.8,450.9 C1301.9,448.5 1304.9,446.5 1308.0,444.8 C1311.1,443.1 1314.7,442.8 1317.2,440.9 C1319.8,439.0 1321.4,436.2 1323.3,433.3 C1325.2,430.4 1326.0,425.0 1328.6,423.3 C1331.1,421.6 1336.3,423.0 1338.6,423.3 C1340.9,423.6 1340.4,426.5 1342.4,424.9 C1344.4,423.2 1348.4,417.0 1350.8,413.4 C1353.2,409.8 1354.9,405.9 1356.9,403.5 C1358.9,401.1 1360.5,402.3 1363.0,398.9 C1365.5,395.4 1369.9,386.6 1372.2,382.8 C1374.5,379.0 1375.0,377.8 1376.8,375.9 C1378.6,374.0 1380.4,373.4 1382.9,371.4 C1385.5,369.4 1388.8,368.2 1392.1,363.7 C1395.4,359.2 1398.5,349.4 1402.6,344.3 C1406.7,339.2 1411.1,340.5 1416.6,332.9 C1422.1,325.3 1431.1,306.8 1435.5,298.8 C1439.9,290.8 1440.1,289.1 1443.1,284.9 C1446.0,280.7 1449.2,279.4 1453.2,273.5 C1457.2,267.6 1463.0,255.7 1467.2,249.4 C1471.4,243.1 1473.7,239.7 1478.5,235.5 C1483.3,231.3 1490.9,228.5 1496.2,224.2 C1501.5,219.9 1507.9,212.1 1510.2,209.7" fill="none" stroke="#000" stroke-width="1.1" stroke-linejoin="round"/>
<path d="M1617.7,308.4 C1619.8,306.4 1625.7,299.7 1630.3,296.2 C1634.9,292.7 1638.3,288.6 1645.5,287.4 C1652.7,286.2 1666.1,290.9 1673.3,289.2 C1680.5,287.5 1683.0,280.2 1688.5,277.3 C1694.0,274.4 1700.3,272.9 1706.2,271.5 C1712.1,270.1 1718.4,270.9 1723.9,268.9 C1729.4,266.9 1734.9,263.3 1739.1,259.6 C1743.3,255.9 1744.6,253.0 1749.2,246.9 C1753.8,240.8 1761.0,232.4 1766.9,222.9 C1772.8,213.4 1780.1,197.8 1784.6,190.0 C1789.1,182.2 1789.8,178.5 1794.0,176.0 C1798.2,173.5 1807.3,175.0 1810.0,174.8" fill="none" stroke="#000" stroke-width="1.1" stroke-linejoin="round"/></g>
<g><line x1="260" y1="952.5" x2="276" y2="952.5" stroke="#000" stroke-width="1" shape-rendering="crispEdges"/><line x1="260" y1="903.5" x2="267" y2="903.5" stroke="#000" stroke-width="1" shape-rendering="crispEdges"/><line x1="260" y1="874.5" x2="267" y2="874.5" stroke="#000" stroke-width="1" shape-rendering="crispEdges"/><line x1="260" y1="854.5" x2="267" y2="854.5" stroke="#000" stroke-width="1" shape-rendering="crispEdges"/><line x1="260" y1="838.5" x2="267" y2="838.5" stroke="#000" stroke-width="1" shape-rendering="crispEdges"/><line x1="260" y1="825.5" x2="267" y2="825.5" stroke="#000" stroke-width="1" shape-rendering="crispEdges"/><line x1="260" y1="814.5" x2="267" y2="814.5" stroke="#000" stroke-width="1" shape-rendering="crispEdges"/><line x1="260" y1="805.5" x2="267" y2="805.5" stroke="#000" stroke-width="1" shape-rendering="crispEdges"/><line x1="260" y1="796.5" x2="267" y2="796.5" stroke="#000" stroke-width="1" shape-rendering="crispEdges"/><line x1="260" y1="789.5" x2="276" y2="789.5" stroke="#000" stroke-width="1" shape-rendering="crispEdges"/><line x1="260" y1="740.5" x2="267" y2="740.5" stroke="#000" stroke-width="1" shape-rendering="crispEdges"/><line x1="260" y1="711.5" x2="267" y2="711.5" stroke="#000" stroke-width="1" shape-rendering="crispEdges"/><line x1="260" y1="691.5" x2="267" y2="691.5" stroke="#000" stroke-width="1" shape-rendering="crispEdges"/><line x1="260" y1="675.5" x2="267" y2="675.5" stroke="#000" stroke-width="1" shape-rendering="crispEdges"/><line x1="260" y1="662.5" x2="267" y2="662.5" stroke="#000" stroke-width="1" shape-rendering="crispEdges"/><line x1="260" y1="651.5" x2="267" y2="651.5" stroke="#000" stroke-width="1" shape-rendering="crispEdges"/><line x1="260" y1="641.5" x2="267" y2="641.5" stroke="#000" stroke-width="1" shape-rendering="crispEdges"/><line x1="260" y1="633.5" x2="267" y2="633.5" stroke="#000" stroke-width="1" shape-rendering="crispEdges"/><line x1="260" y1="626.5" x2="276" y2="626.5" stroke="#000" stroke-width="1" shape-rendering="crispEdges"/><line x1="260" y1="576.5" x2="267" y2="576.5" stroke="#000" stroke-width="1" shape-rendering="crispEdges"/><line x1="260" y1="548.5" x2="267" y2="548.5" stroke="#000" stroke-width="1" shape-rendering="crispEdges"/><line x1="260" y1="527.5" x2="267" y2="527.5" stroke="#000" stroke-width="1" shape-rendering="crispEdges"/><line x1="260" y1="512.5" x2="267" y2="512.5" stroke="#000" stroke-width="1" shape-rendering="crispEdges"/><line x1="260" y1="499.5" x2="267" y2="499.5" stroke="#000" stroke-width="1" shape-rendering="crispEdges"/><line x1="260" y1="488.5" x2="267" y2="488.5" stroke="#000" stroke-width="1" shape-rendering="crispEdges"/><line x1="260" y1="478.5" x2="267" y2="478.5" stroke="#000" stroke-width="1" shape-rendering="crispEdges"/><line x1="260" y1="470.5" x2="267" y2="470.5" stroke="#000" stroke-width="1" shape-rendering="crispEdges"/><line x1="260" y1="462.5" x2="276" y2="462.5" stroke="#000" stroke-width="1" shape-rendering="crispEdges"/><line x1="260" y1="413.5" x2="267" y2="413.5" stroke="#000" stroke-width="1" shape-rendering="crispEdges"/><line x1="260" y1="385.5" x2="267" y2="385.5" stroke="#000" stroke-width="1" shape-rendering="crispEdges"/><line x1="260" y1="364.5" x2="267" y2="364.5" stroke="#000" stroke-width="1" shape-rendering="crispEdges"/><line x1="260" y1="348.5" x2="267" y2="348.5" stroke="#000" stroke-width="1" shape-rendering="crispEdges"/><line x1="260" y1="335.5" x2="267" y2="335.5" stroke="#000" stroke-width="1" shape-rendering="crispEdges"/><line x1="260" y1="324.5" x2="267" y2="324.5" stroke="#000" stroke-width="1" shape-rendering="crispEdges"/><line x1="260" y1="315.5" x2="267" y2="315.5" stroke="#000" stroke-width="1" shape-rendering="crispEdges"/><line x1="260" y1="307.5" x2="267" y2="307.5" stroke="#000" stroke-width="1" shape-rendering="crispEdges"/><line x1="260" y1="299.5" x2="276" y2="299.5" stroke="#000" stroke-width="1" shape-rendering="crispEdges"/><line x1="260" y1="250.5" x2="267" y2="250.5" stroke="#000" stroke-width="1" shape-rendering="crispEdges"/><line x1="260" y1="221.5" x2="267" y2="221.5" stroke="#000" stroke-width="1" shape-rendering="crispEdges"/><line x1="260" y1="201.5" x2="267" y2="201.5" stroke="#000" stroke-width="1" shape-rendering="crispEdges"/><line x1="260" y1="185.5" x2="267" y2="185.5" stroke="#000" stroke-width="1" shape-rendering="crispEdges"/><line x1="260" y1="172.5" x2="267" y2="172.5" stroke="#000" stroke-width="1" shape-rendering="crispEdges"/><line x1="260" y1="161.5" x2="267" y2="161.5" stroke="#000" stroke-width="1" shape-rendering="crispEdges"/><line x1="260" y1="152.5" x2="267" y2="152.5" stroke="#000" stroke-width="1" shape-rendering="crispEdges"/><line x1="260" y1="143.5" x2="267" y2="143.5" stroke="#000" stroke-width="1" shape-rendering="crispEdges"/><line x1="260" y1="136.5" x2="276" y2="136.5" stroke="#000" stroke-width="1" shape-rendering="crispEdges"/><line x1="441.5" y1="936" x2="441.5" y2="952" stroke="#000" stroke-width="1" shape-rendering="crispEdges"/><line x1="621.5" y1="936" x2="621.5" y2="952" stroke="#000" stroke-width="1" shape-rendering="crispEdges"/><line x1="802.5" y1="936" x2="802.5" y2="952" stroke="#000" stroke-width="1" shape-rendering="crispEdges"/><line x1="982.5" y1="936" x2="982.5" y2="952" stroke="#000" stroke-width="1" shape-rendering="crispEdges"/><line x1="1163.5" y1="936" x2="1163.5" y2="952" stroke="#000" stroke-width="1" shape-rendering="crispEdges"/><line x1="1343.5" y1="936" x2="1343.5" y2="952" stroke="#000" stroke-width="1" shape-rendering="crispEdges"/><line x1="1628.5" y1="936" x2="1628.5" y2="952" stroke="#000" stroke-width="1" shape-rendering="crispEdges"/></g>
<g><line x1="1794" y1="911.5" x2="1810" y2="911.5" stroke="#1a1aa6" stroke-width="1" shape-rendering="crispEdges"/><line x1="1794" y1="829.5" x2="1810" y2="829.5" stroke="#1a1aa6" stroke-width="1" shape-rendering="crispEdges"/><line x1="1794" y1="748.5" x2="1810" y2="748.5" stroke="#1a1aa6" stroke-width="1" shape-rendering="crispEdges"/><line x1="1794" y1="666.5" x2="1810" y2="666.5" stroke="#1a1aa6" stroke-width="1" shape-rendering="crispEdges"/><line x1="1794" y1="585.5" x2="1810" y2="585.5" stroke="#1a1aa6" stroke-width="1" shape-rendering="crispEdges"/><line x1="1794" y1="503.5" x2="1810" y2="503.5" stroke="#1a1aa6" stroke-width="1" shape-rendering="crispEdges"/><line x1="1794" y1="421.5" x2="1810" y2="421.5" stroke="#1a1aa6" stroke-width="1" shape-rendering="crispEdges"/><line x1="1794" y1="340.5" x2="1810" y2="340.5" stroke="#1a1aa6" stroke-width="1" shape-rendering="crispEdges"/><line x1="1794" y1="258.5" x2="1810" y2="258.5" stroke="#1a1aa6" stroke-width="1" shape-rendering="crispEdges"/><line x1="1794" y1="177.5" x2="1810" y2="177.5" stroke="#1a1aa6" stroke-width="1" shape-rendering="crispEdges"/></g>
<line x1="260" y1="135.5" x2="1811" y2="135.5" stroke="#1a1aa6" stroke-width="1" shape-rendering="crispEdges"/>
<line x1="1810.5" y1="135" x2="1810.5" y2="953" stroke="#1a1aa6" stroke-width="1" shape-rendering="crispEdges"/>
<line x1="260.5" y1="135" x2="260.5" y2="953" stroke="#000" stroke-width="1" shape-rendering="crispEdges"/>
<line x1="260" y1="952.5" x2="1810" y2="952.5" stroke="#000" stroke-width="1" shape-rendering="crispEdges"/>
<text x="240.5" y="961.5" text-anchor="end" font-size="27.5">10</text>
<text class="sm" x="241.5" y="944.5" font-size="18.5">1</text>
<text x="240.5" y="798.3" text-anchor="end" font-size="27.5">10</text>
<text class="sm" x="241.5" y="781.3" font-size="18.5">2</text>
<text x="240.5" y="635.1" text-anchor="end" font-size="27.5">10</text>
<text class="sm" x="241.5" y="618.1" font-size="18.5">3</text>
<text x="240.5" y="471.9" text-anchor="end" font-size="27.5">10</text>
<text class="sm" x="241.5" y="454.9" font-size="18.5">4</text>
<text x="240.5" y="308.7" text-anchor="end" font-size="27.5">10</text>
<text class="sm" x="241.5" y="291.7" font-size="18.5">5</text>
<text x="240.5" y="145.5" text-anchor="end" font-size="27.5">10</text>
<text class="sm" x="241.5" y="128.5" font-size="18.5">6</text>
<text x="1818.2" y="920.2" font-size="27.5" letter-spacing="0.3" fill="#1414c8">400</text>
<text x="1818.2" y="838.6" font-size="27.5" letter-spacing="0.3" fill="#1414c8">450</text>
<text x="1818.2" y="757.0" font-size="27.5" letter-spacing="0.3" fill="#1414c8">500</text>
<text x="1818.2" y="675.4" font-size="27.5" letter-spacing="0.3" fill="#1414c8">550</text>
<text x="1818.2" y="593.8" font-size="27.5" letter-spacing="0.3" fill="#1414c8">600</text>
<text x="1818.2" y="512.2" font-size="27.5" letter-spacing="0.3" fill="#1414c8">650</text>
<text x="1818.2" y="430.6" font-size="27.5" letter-spacing="0.3" fill="#1414c8">700</text>
<text x="1818.2" y="349.0" font-size="27.5" letter-spacing="0.3" fill="#1414c8">750</text>
<text x="1818.2" y="267.4" font-size="27.5" letter-spacing="0.3" fill="#1414c8">800</text>
<text x="1818.2" y="185.8" font-size="27.5" letter-spacing="0.3" fill="#1414c8">850</text>
<text transform="translate(178.5,596.5) rotate(-90)" font-size="27.5">N<tspan class="sm" font-size="18.5" dy="6">i</tspan><tspan dy="-6"> (cm</tspan><tspan class="sm" font-size="18.5" dy="-11">-3</tspan><tspan dy="11">)</tspan></text>
<text transform="translate(1900.8,592) rotate(-90)" font-size="27.8" fill="#1414c8">alt (km)</text>
<text x="1500.8" y="844" font-size="27.6" letter-spacing="0.2" fill="#1414c8">Eclipse</text>
<line x1="1611.5" y1="834.5" x2="1762" y2="834.5" stroke="#0000ee" stroke-width="12.7" stroke-dasharray="10 4.1"/>
<text x="1499.8" y="884.5" font-size="27.8" letter-spacing="0.2" fill="#000">One Minute Average</text>
<text x="1499.8" y="926.5" font-size="27.8" letter-spacing="0.2" fill="#10e010">One Second Average</text>
<g id="spectro"><defs>
<filter id="tu1" x="733" y="970" width="632" height="152" filterUnits="userSpaceOnUse" color-interpolation-filters="sRGB">
<feTurbulence type="fractalNoise" baseFrequency="0.8 0.6" numOctaves="1" seed="11"/>
<feColorMatrix type="matrix" values="0 0 0 0 0.05  0 0 0 0 0.15  0 0 0 0 1  4.5 0 0 0 -2.65"/>
</filter>
<filter id="tu2" x="733" y="1020" width="632" height="102" filterUnits="userSpaceOnUse" color-interpolation-filters="sRGB">
<feTurbulence type="fractalNoise" baseFrequency="0.7 0.03" numOctaves="2" seed="5"/>
<feColorMatrix type="matrix" values="0 0 0 0 0.0  0 0 0 0 0.3  0 0 0 0 1  6.0 0 0 0 -3.3"/>
</filter>
<linearGradient id="spg" x1="0" y1="0" x2="0" y2="1">
<stop offset="0" stop-color="#00007f"/><stop offset="0.06" stop-color="#0000a3"/><stop offset="0.5" stop-color="#0000b2"/><stop offset="1" stop-color="#0000bc"/>
</linearGradient>
<linearGradient id="actg" x1="0" y1="0" x2="1" y2="0"><stop offset="0.0000" stop-color="#fff" stop-opacity="0.3"/><stop offset="0.1060" stop-color="#fff" stop-opacity="0.3"/><stop offset="0.1139" stop-color="#fff" stop-opacity="0.5"/><stop offset="0.2326" stop-color="#fff" stop-opacity="0.5"/><stop offset="0.2405" stop-color="#fff" stop-opacity="0.6"/><stop offset="0.4225" stop-color="#fff" stop-opacity="0.6"/><stop offset="0.4383" stop-color="#fff" stop-opacity="0.7"/><stop offset="0.4937" stop-color="#fff" stop-opacity="0.75"/><stop offset="0.5016" stop-color="#fff" stop-opacity="1.0"/><stop offset="0.6440" stop-color="#fff" stop-opacity="1.0"/><stop offset="0.6519" stop-color="#fff" stop-opacity="0.55"/><stop offset="0.7199" stop-color="#fff" stop-opacity="0.55"/><stop offset="0.7263" stop-color="#fff" stop-opacity="0.25"/><stop offset="0.7737" stop-color="#fff" stop-opacity="0.25"/><stop offset="0.7832" stop-color="#fff" stop-opacity="0.9"/><stop offset="0.9367" stop-color="#fff" stop-opacity="0.9"/><stop offset="0.9478" stop-color="#fff" stop-opacity="1.0"/><stop offset="1.0000" stop-color="#fff" stop-opacity="1.0"/></linearGradient>
<linearGradient id="vfade" x1="0" y1="0" x2="0" y2="1"><stop offset="0" stop-color="#fff" stop-opacity="0"/><stop offset="0.6" stop-color="#fff" stop-opacity="0.7"/><stop offset="1" stop-color="#fff" stop-opacity="1"/></linearGradient>
<mask id="actm" maskUnits="userSpaceOnUse" x="733" y="970" width="632" height="152"><rect x="733" y="970" width="632" height="152" fill="url(#actg)"/></mask>
<mask id="vfm" maskUnits="userSpaceOnUse" x="733" y="970" width="632" height="152"><rect x="733" y="1020" width="632" height="102" fill="url(#vfade)"/></mask>
</defs><clipPath id="spc"><rect x="733" y="970" width="632" height="152"/></clipPath><g clip-path="url(#spc)"><rect x="733" y="970" width="632" height="152" fill="url(#spg)"/><rect x="733" y="970" width="632" height="152" filter="url(#tu1)"/><g mask="url(#actm)"><g mask="url(#vfm)"><rect x="733" y="1020" width="632" height="102" filter="url(#tu2)"/></g></g><rect x="892" y="1040" width="2" height="2" fill="#0038ff"/><rect x="897" y="1040" width="6" height="2" fill="#0036ff"/><rect x="904" y="1040" width="2" height="2" fill="#0016ff"/><rect x="907" y="1040" width="6" height="2" fill="#004eff"/><rect x="914" y="1040" width="3" height="2" fill="#003cff"/><rect x="918" y="1040" width="6" height="2" fill="#0014ff"/><rect x="926" y="1040" width="2" height="2" fill="#001bff"/><rect x="932" y="1040" width="3" height="2" fill="#003bff"/><rect x="940" y="1040" width="3" height="2" fill="#003bff"/><rect x="945" y="1040" width="4" height="2" fill="#0045ff"/><rect x="954" y="1040" width="2" height="2" fill="#0035ff"/><rect x="979" y="1040" width="4" height="2" fill="#001eff"/><rect x="985" y="1040" width="2" height="2" fill="#0037ff"/><rect x="990" y="1040" width="5" height="2" fill="#0059ff"/><rect x="996" y="1040" width="6" height="2" fill="#0048ff"/><rect x="1004" y="1040" width="5" height="2" fill="#0057ff"/><rect x="1010" y="1040" width="6" height="2" fill="#0051ff"/><rect x="1019" y="1040" width="4" height="2" fill="#003cff"/><rect x="1028" y="1040" width="5" height="2" fill="#0018ff"/><rect x="1036" y="1040" width="5" height="2" fill="#0016ff"/><rect x="1054" y="1040" width="4" height="2" fill="#0052ff"/><rect x="1066" y="1040" width="3" height="2" fill="#0035ff"/><rect x="1071" y="1040" width="4" height="2" fill="#0023ff"/><rect x="1079" y="1040" width="5" height="2" fill="#0032ff"/><rect x="1097" y="1040" width="6" height="2" fill="#002fff"/><rect x="1113" y="1040" width="2" height="2" fill="#0022ff"/><rect x="1117" y="1040" width="2" height="2" fill="#003cff"/><rect x="1122" y="1040" width="4" height="2" fill="#0030ff"/><rect x="1129" y="1040" width="1" height="2" fill="#0057ff"/><rect x="1150" y="1040" width="6" height="2" fill="#005cff"/><rect x="1160" y="1040" width="6" height="2" fill="#003fff"/><rect x="1167" y="1040" width="5" height="2" fill="#0022ff"/><rect x="1173" y="1040" width="3" height="2" fill="#0026ff"/><rect x="1130" y="1040" width="2" height="2" fill="#0014ff"/><rect x="1144" y="1040" width="2" height="2" fill="#0003ff"/><rect x="920" y="1040" width="3" height="2" fill="#0057ff"/><rect x="928" y="1040" width="4" height="2" fill="#0019ff"/><rect x="936" y="1040" width="5" height="2" fill="#0028ff"/><rect x="943" y="1040" width="2" height="2" fill="#0047ff"/><rect x="949" y="1040" width="3" height="2" fill="#0020ff"/><rect x="957" y="1040" width="4" height="2" fill="#0039ff"/><rect x="962" y="1040" width="6" height="2" fill="#0040ff"/><rect x="969" y="1040" width="4" height="2" fill="#0054ff"/><rect x="976" y="1040" width="3" height="2" fill="#004aff"/><rect x="982" y="1040" width="3" height="2" fill="#004bff"/><rect x="992" y="1040" width="3" height="2" fill="#002bff"/><rect x="1002" y="1040" width="4" height="2" fill="#003dff"/><rect x="1017" y="1040" width="4" height="2" fill="#0018ff"/><rect x="1025" y="1040" width="3" height="2" fill="#0034ff"/><rect x="1033" y="1040" width="2" height="2" fill="#0041ff"/><rect x="827" y="1024" width="4" height="2" fill="#003fff"/><rect x="835" y="1024" width="5" height="2" fill="#003fff"/><rect x="846" y="1024" width="3" height="2" fill="#0021ff"/><rect x="861" y="1024" width="4" height="2" fill="#0026ff"/><rect x="869" y="1024" width="6" height="2" fill="#000dff"/><rect x="877" y="1024" width="3" height="2" fill="#0012ff"/><rect x="891" y="1024" width="4" height="2" fill="#0038ff"/><rect x="905" y="1024" width="6" height="2" fill="#003dff"/><rect x="916" y="1024" width="3" height="2" fill="#0025ff"/><rect x="934" y="1024" width="3" height="2" fill="#002aff"/><rect x="938" y="1024" width="6" height="2" fill="#002eff"/><rect x="949" y="1024" width="6" height="2" fill="#0034ff"/><rect x="960" y="1024" width="2" height="2" fill="#0016ff"/><rect x="963" y="1024" width="6" height="2" fill="#0006ff"/><rect x="970" y="1024" width="5" height="2" fill="#0040ff"/><rect x="980" y="1024" width="6" height="2" fill="#0016ff"/><rect x="1002" y="1024" width="3" height="2" fill="#003aff"/><rect x="1016" y="1024" width="5" height="2" fill="#000cff"/><rect x="1025" y="1024" width="4" height="2" fill="#0013ff"/><rect x="1030" y="1024" width="3" height="2" fill="#0035ff"/><rect x="1035" y="1024" width="4" height="2" fill="#003bff"/><rect x="1043" y="1024" width="3" height="2" fill="#000aff"/><rect x="1055" y="1024" width="3" height="2" fill="#0041ff"/><rect x="1062" y="1024" width="4" height="2" fill="#001aff"/><rect x="1067" y="1024" width="4" height="2" fill="#0027ff"/><rect x="1075" y="1024" width="2" height="2" fill="#0024ff"/><rect x="1091" y="1024" width="2" height="2" fill="#0007ff"/><rect x="818" y="1015" width="4" height="2" fill="#001cff"/><rect x="827" y="1015" width="6" height="2" fill="#0010ff"/><rect x="848" y="1015" width="2" height="2" fill="#002bff"/><rect x="866" y="1015" width="2" height="2" fill="#001dff"/><rect x="871" y="1015" width="6" height="2" fill="#001cff"/><rect x="884" y="1015" width="2" height="2" fill="#0032ff"/><rect x="898" y="1015" width="5" height="2" fill="#0008ff"/><rect x="909" y="1015" width="2" height="2" fill="#001aff"/><rect x="913" y="1015" width="6" height="2" fill="#0032ff"/><rect x="920" y="1015" width="5" height="2" fill="#001dff"/><rect x="929" y="1015" width="6" height="2" fill="#000aff"/><rect x="937" y="1015" width="4" height="2" fill="#002fff"/><rect x="949" y="1015" width="3" height="2" fill="#0021ff"/><rect x="955" y="1015" width="5" height="2" fill="#0003ff"/><rect x="964" y="1015" width="6" height="2" fill="#000eff"/><rect x="972" y="1015" width="4" height="2" fill="#0009ff"/><rect x="979" y="1015" width="5" height="2" fill="#0013ff"/><rect x="987" y="1015" width="6" height="2" fill="#0000ff"/><rect x="996" y="1015" width="3" height="2" fill="#0000fe"/><rect x="1003" y="1015" width="2" height="2" fill="#001aff"/><rect x="1007" y="1015" width="3" height="2" fill="#0000fe"/><rect x="1040" y="1015" width="2" height="2" fill="#001fff"/><rect x="1046" y="1015" width="2" height="2" fill="#0021ff"/><rect x="1057" y="1015" width="6" height="2" fill="#0010ff"/><rect x="1067" y="1015" width="3" height="2" fill="#0021ff"/><rect x="1079" y="1015" width="5" height="2" fill="#002bff"/><rect x="880" y="1009" width="3" height="2" fill="#0000f3"/><rect x="886" y="1009" width="2" height="2" fill="#0006ff"/><rect x="889" y="1009" width="2" height="2" fill="#000fff"/><rect x="895" y="1009" width="4" height="2" fill="#0014ff"/><rect x="904" y="1009" width="6" height="2" fill="#0009ff"/><rect x="921" y="1009" width="3" height="2" fill="#0000fa"/><rect x="942" y="1009" width="2" height="2" fill="#000eff"/><rect x="945" y="1009" width="6" height="2" fill="#0000fc"/><rect x="954" y="1009" width="6" height="2" fill="#0000f2"/><rect x="961" y="1009" width="5" height="2" fill="#000fff"/><rect x="968" y="1009" width="5" height="2" fill="#0008ff"/><rect x="977" y="1009" width="3" height="2" fill="#0000f6"/><rect x="1055" y="998" width="3" height="2" fill="#0000f5"/><rect x="1062" y="998" width="2" height="2" fill="#0000f5"/><rect x="1083" y="998" width="2" height="2" fill="#0000f7"/><rect x="1114" y="998" width="3" height="2" fill="#0018ff"/><rect x="1121" y="998" width="2" height="2" fill="#001bff"/><rect x="1127" y="998" width="5" height="2" fill="#0000f7"/><rect x="1135" y="998" width="5" height="2" fill="#0016ff"/><rect x="1169" y="998" width="4" height="2" fill="#0036ff"/><rect x="1178" y="998" width="2" height="2" fill="#0039ff"/><rect x="1183" y="998" width="2" height="2" fill="#001bff"/><rect x="1188" y="998" width="2" height="2" fill="#002cff"/><rect x="1100" y="985" width="4" height="2" fill="#000bff"/><rect x="1114" y="985" width="6" height="2" fill="#001cff"/><rect x="1121" y="985" width="5" height="2" fill="#001dff"/><rect x="1129" y="985" width="5" height="2" fill="#0026ff"/><rect x="1136" y="985" width="3" height="2" fill="#0009ff"/><rect x="1275" y="983" width="4" height="2" fill="#0059ff"/><rect x="1282" y="983" width="5" height="2" fill="#0027ff"/><rect x="1292" y="983" width="3" height="2" fill="#0040ff"/><rect x="1270" y="974" width="3" height="2" fill="#0020ff"/><rect x="1278" y="974" width="3" height="2" fill="#0009ff"/><rect x="1285" y="974" width="5" height="2" fill="#0002ff"/><rect x="1291" y="974" width="3" height="2" fill="#0000fc"/><rect x="1296" y="974" width="4" height="2" fill="#0014ff"/><rect x="895" y="985" width="5" height="2" fill="#0048ff"/><rect x="902" y="985" width="3" height="2" fill="#0048ff"/><rect x="830" y="1040" width="4" height="2" fill="#0002ff"/><rect x="839" y="1040" width="6" height="2" fill="#0017ff"/><rect x="847" y="1040" width="2" height="2" fill="#0000fc"/><rect x="853" y="1040" width="5" height="2" fill="#0000ff"/><rect x="859" y="1040" width="3" height="2" fill="#0011ff"/><rect x="866" y="1040" width="6" height="2" fill="#0000f4"/><rect x="1303" y="1082" width="1" height="15" fill="#0000f5"/><rect x="1303" y="1095" width="2" height="2" fill="#0000ee"/><rect x="1295" y="1075" width="1" height="22" fill="#0000fd"/><rect x="1294" y="1095" width="2" height="2" fill="#0048ff"/><rect x="1322" y="1091" width="2" height="6" fill="#002dff"/><rect x="1304" y="1078" width="1" height="19" fill="#0005ff"/><rect x="1364" y="1081" width="2" height="16" fill="#0001ff"/><rect x="1290" y="1075" width="2" height="22" fill="#004cff"/><rect x="1325" y="1085" width="1" height="12" fill="#0016ff"/><rect x="1320" y="1092" width="1" height="5" fill="#0000e8"/><rect x="1342" y="1095" width="2" height="2" fill="#0000eb"/><rect x="1314" y="1090" width="2" height="7" fill="#0000ed"/><rect x="1319" y="1088" width="2" height="9" fill="#0000fc"/><rect x="1294" y="1085" width="2" height="12" fill="#000bff"/><rect x="1340" y="1081" width="1" height="16" fill="#0037ff"/><rect x="1354" y="1077" width="1" height="20" fill="#0019ff"/><rect x="1315" y="1084" width="1" height="13" fill="#0000fd"/><rect x="1318" y="1083" width="2" height="14" fill="#0000f0"/><rect x="1353" y="1094" width="1" height="3" fill="#0041ff"/><rect x="1352" y="1088" width="1" height="9" fill="#0047ff"/><rect x="1308" y="1087" width="1" height="10" fill="#0000fb"/><rect x="1308" y="1088" width="1" height="9" fill="#002eff"/><rect x="1313" y="1087" width="2" height="10" fill="#0042ff"/><rect x="1330" y="1078" width="1" height="19" fill="#0045ff"/><rect x="1332" y="1081" width="1" height="16" fill="#0029ff"/><rect x="1357" y="1089" width="1" height="8" fill="#0006ff"/><rect x="1338" y="1086" width="2" height="11" fill="#0013ff"/><rect x="1303" y="1075" width="1" height="22" fill="#0003ff"/><rect x="1334" y="1088" width="1" height="9" fill="#001fff"/><rect x="1316" y="1087" width="2" height="10" fill="#0034ff"/><rect x="1329" y="1088" width="1" height="9" fill="#0000ea"/><rect x="1350" y="1081" width="2" height="16" fill="#001dff"/><rect x="1347" y="1081" width="2" height="16" fill="#000bff"/><rect x="1350" y="1075" width="2" height="22" fill="#0000fe"/><rect x="1341" y="1076" width="2" height="21" fill="#0000e9"/><rect x="1298" y="1076" width="2" height="21" fill="#0000f9"/><rect x="1298" y="1094" width="2" height="3" fill="#000bff"/><rect x="1332" y="1094" width="1" height="3" fill="#0001ff"/><rect x="1330" y="1083" width="2" height="14" fill="#0000e5"/><rect x="1298" y="1075" width="1" height="22" fill="#0000f0"/><rect x="1349" y="1087" width="2" height="10" fill="#0043ff"/><rect x="1353" y="1079" width="2" height="18" fill="#0000f8"/><rect x="1328" y="1079" width="1" height="18" fill="#0007ff"/><rect x="1330" y="1089" width="2" height="8" fill="#0036ff"/><rect x="1300" y="1091" width="1" height="6" fill="#000eff"/><rect x="1310" y="1082" width="2" height="15" fill="#0000ec"/><rect x="1294" y="1090" width="2" height="7" fill="#0000f5"/><rect x="1344" y="1078" width="1" height="19" fill="#0001ff"/><rect x="1300" y="1081" width="1" height="16" fill="#0011ff"/><rect x="1347" y="1080" width="1" height="17" fill="#0000f3"/><rect x="1348" y="1094" width="1" height="3" fill="#0032ff"/><rect x="1305" y="1084" width="2" height="13" fill="#0002ff"/><rect x="1324" y="1086" width="2" height="11" fill="#0031ff"/><rect x="1315" y="1089" width="1" height="8" fill="#0000f8"/><rect x="1320" y="1079" width="2" height="18" fill="#0040ff"/><rect x="1364" y="1081" width="2" height="16" fill="#0000ec"/><rect x="1322" y="1082" width="1" height="15" fill="#0028ff"/><rect x="1302" y="1095" width="2" height="2" fill="#004bff"/><rect x="1303" y="1075" width="2" height="22" fill="#0040ff"/><rect x="1319" y="1089" width="2" height="8" fill="#0000e9"/><rect x="1033" y="1058" width="2" height="39" fill="#0000d2"/><rect x="1114" y="1066" width="1" height="31" fill="#0000eb"/><rect x="1343" y="1077" width="1" height="20" fill="#0000d8"/><rect x="1081" y="1068" width="1" height="29" fill="#0019ff"/><rect x="1346" y="1068" width="1" height="29" fill="#000aff"/><rect x="812" y="1086" width="1" height="11" fill="#0000dd"/><rect x="1150" y="1080" width="1" height="17" fill="#0000e4"/><rect x="1279" y="1065" width="1" height="32" fill="#0000e4"/><rect x="1047" y="1058" width="2" height="39" fill="#0000dc"/><rect x="1098" y="1056" width="1" height="41" fill="#000eff"/><rect x="1147" y="1055" width="1" height="42" fill="#0000da"/><rect x="1166" y="1060" width="1" height="37" fill="#0000d9"/><rect x="866" y="1090" width="1" height="7" fill="#0000cc"/><rect x="1112" y="1065" width="1" height="32" fill="#0000d2"/><rect x="801" y="1086" width="1" height="11" fill="#0000db"/><rect x="1041" y="1057" width="1" height="40" fill="#0003ff"/><rect x="1055" y="1095" width="2" height="2" fill="#0000e6"/><rect x="1362" y="1085" width="1" height="12" fill="#0000d5"/><rect x="1263" y="1077" width="1" height="20" fill="#0000cf"/><rect x="930" y="1090" width="2" height="7" fill="#0000f0"/><rect x="1064" y="1093" width="2" height="4" fill="#0000ec"/><rect x="1048" y="1082" width="1" height="15" fill="#0000e3"/><rect x="916" y="1094" width="1" height="3" fill="#0000f7"/><rect x="774" y="1063" width="2" height="34" fill="#0000c8"/><rect x="1054" y="1087" width="2" height="10" fill="#0000cd"/><rect x="1119" y="1063" width="1" height="34" fill="#0000c9"/><rect x="1361" y="1062" width="1" height="35" fill="#0000d6"/><rect x="959" y="1077" width="1" height="20" fill="#0000e4"/><rect x="895" y="1094" width="1" height="3" fill="#0000d4"/><rect x="1224" y="1071" width="1" height="26" fill="#0000de"/><rect x="1059" y="1067" width="1" height="30" fill="#0000d5"/><rect x="1118" y="1071" width="2" height="26" fill="#0000d0"/><rect x="1101" y="1083" width="2" height="14" fill="#0000f4"/><rect x="1281" y="1080" width="1" height="17" fill="#0000fd"/><rect x="1004" y="1078" width="1" height="19" fill="#0000e5"/><rect x="1071" y="1083" width="2" height="14" fill="#0000d9"/><rect x="1261" y="1095" width="2" height="2" fill="#000eff"/><rect x="1053" y="1057" width="1" height="40" fill="#0000d8"/><rect x="1363" y="1081" width="1" height="16" fill="#0000f0"/><rect x="1360" y="1056" width="2" height="41" fill="#0000cb"/><rect x="1096" y="1088" width="1" height="9" fill="#0000e4"/><rect x="1336" y="1078" width="1" height="19" fill="#0000f9"/><rect x="895" y="1070" width="1" height="27" fill="#0000e9"/><rect x="831" y="1064" width="1" height="33" fill="#0000ea"/><rect x="744" y="1090" width="2" height="7" fill="#0000dc"/><rect x="1325" y="1088" width="1" height="9" fill="#0000fc"/><rect x="778" y="1056" width="1" height="41" fill="#0000d0"/><rect x="896" y="1061" width="2" height="36" fill="#0000c7"/><rect x="934" y="1067" width="2" height="30" fill="#0000e0"/><rect x="1252" y="1081" width="1" height="16" fill="#0003ff"/><rect x="1253" y="1074" width="2" height="23" fill="#0000f4"/><rect x="955" y="1087" width="1" height="10" fill="#0000c7"/><rect x="1067" y="1079" width="1" height="18" fill="#0000e1"/><rect x="1121" y="1095" width="2" height="2" fill="#0013ff"/><rect x="1282" y="1088" width="1" height="9" fill="#0000fa"/><rect x="1048" y="1080" width="1" height="17" fill="#0000f4"/><rect x="881" y="1062" width="1" height="35" fill="#0000cb"/><rect x="1086" y="1056" width="1" height="41" fill="#0000c9"/><rect x="780" y="1092" width="1" height="5" fill="#0000d9"/><rect x="1126" y="1068" width="1" height="29" fill="#0000d7"/><rect x="1027" y="1063" width="2" height="34" fill="#0000cc"/><rect x="942" y="1076" width="1" height="21" fill="#0000db"/><rect x="1092" y="1073" width="1" height="24" fill="#0000ca"/><rect x="1061" y="1093" width="1" height="4" fill="#0000f0"/><rect x="1027" y="1055" width="1" height="42" fill="#0000e5"/><rect x="788" y="1086" width="2" height="11" fill="#0000c9"/><rect x="1339" y="1087" width="1" height="10" fill="#0000dc"/><rect x="1307" y="1095" width="1" height="2" fill="#0000de"/><rect x="1043" y="1089" width="1" height="8" fill="#0000e5"/><rect x="1352" y="1077" width="2" height="20" fill="#0000f6"/><rect x="1064" y="1083" width="1" height="14" fill="#0000ff"/><rect x="1326" y="1076" width="2" height="21" fill="#0000e9"/><rect x="1006" y="1094" width="1" height="3" fill="#0000cf"/><rect x="1350" y="1065" width="1" height="32" fill="#0000da"/><rect x="837" y="1061" width="1" height="36" fill="#0000ce"/><rect x="1037" y="1067" width="1" height="30" fill="#0000cd"/><rect x="1020" y="1079" width="1" height="18" fill="#0000e1"/><rect x="1036" y="1064" width="2" height="33" fill="#0000d6"/><rect x="1147" y="1070" width="1" height="27" fill="#0000ef"/><rect x="1320" y="1081" width="2" height="16" fill="#0006ff"/><rect x="1330" y="1066" width="1" height="31" fill="#0000f9"/><rect x="893" y="1082" width="1" height="15" fill="#0000de"/><rect x="1068" y="1079" width="1" height="18" fill="#000bff"/><rect x="956" y="1067" width="1" height="30" fill="#0000e0"/><rect x="1321" y="1068" width="2" height="29" fill="#0000fb"/><rect x="1111" y="1081" width="1" height="16" fill="#0004ff"/><rect x="1361" y="1058" width="1" height="39" fill="#0000db"/><rect x="1142" y="1059" width="1" height="38" fill="#0000e2"/><rect x="1093" y="1061" width="2" height="36" fill="#0000d9"/><rect x="1134" y="1065" width="1" height="32" fill="#0000d1"/><rect x="1308" y="1064" width="2" height="33" fill="#0000e0"/><rect x="968" y="1079" width="1" height="18" fill="#0000e8"/><rect x="1020" y="1074" width="1" height="23" fill="#0000d9"/><rect x="1104" y="1074" width="1" height="23" fill="#000dff"/><rect x="1065" y="1063" width="1" height="34" fill="#0000f2"/><rect x="1329" y="1055" width="1" height="42" fill="#0000d7"/><rect x="1033" y="1061" width="1" height="36" fill="#0000e9"/><rect x="1087" y="1068" width="2" height="29" fill="#0011ff"/><rect x="1355" y="1060" width="2" height="37" fill="#0000fd"/><rect x="1037" y="1068" width="2" height="29" fill="#0000e6"/><rect x="1303" y="1084" width="2" height="13" fill="#000aff"/><rect x="1236" y="1065" width="2" height="32" fill="#0000ee"/><rect x="1061" y="1091" width="1" height="6" fill="#0000ef"/><rect x="810" y="1078" width="1" height="19" fill="#0000e0"/><rect x="1071" y="1061" width="1" height="36" fill="#0000f0"/><rect x="880" y="1081" width="1" height="16" fill="#0000e0"/><rect x="1107" y="1088" width="1" height="9" fill="#0000f4"/><rect x="1023" y="1082" width="1" height="15" fill="#0000d5"/><rect x="1029" y="1086" width="2" height="11" fill="#0000de"/><rect x="1086" y="1086" width="1" height="11" fill="#0008ff"/><rect x="929" y="1074" width="2" height="23" fill="#0000cd"/><rect x="1291" y="1080" width="1" height="17" fill="#0000dc"/><rect x="1289" y="1094" width="2" height="3" fill="#0000d1"/><rect x="1343" y="1060" width="2" height="37" fill="#0000d8"/><rect x="911" y="1066" width="1" height="31" fill="#0000f1"/><rect x="1308" y="1074" width="1" height="23" fill="#0000d4"/><rect x="1059" y="1091" width="1" height="6" fill="#0000fb"/><rect x="1242" y="1057" width="1" height="40" fill="#0004ff"/><rect x="1322" y="1080" width="1" height="17" fill="#0000e7"/><rect x="1129" y="1064" width="1" height="33" fill="#0000ed"/><rect x="1294" y="1085" width="1" height="12" fill="#0000d6"/><rect x="823" y="1062" width="1" height="35" fill="#0000cc"/><rect x="1107" y="1064" width="1" height="33" fill="#0003ff"/><rect x="1243" y="1071" width="1" height="26" fill="#000aff"/><rect x="765" y="1055" width="2" height="42" fill="#0000dc"/><rect x="1052" y="1065" width="1" height="32" fill="#0016ff"/><rect x="1356" y="1078" width="2" height="19" fill="#0015ff"/><rect x="903" y="1062" width="2" height="35" fill="#0000d8"/><rect x="1313" y="1072" width="2" height="25" fill="#0000cb"/><rect x="1347" y="1093" width="1" height="4" fill="#0003ff"/><rect x="1049" y="1070" width="2" height="27" fill="#0000e4"/><rect x="1118" y="1069" width="1" height="28" fill="#0009ff"/><rect x="1007" y="1092" width="1" height="5" fill="#0000f9"/><rect x="1318" y="1090" width="1" height="7" fill="#0000f9"/><rect x="1088" y="1089" width="1" height="8" fill="#0000f4"/><rect x="972" y="1058" width="1" height="39" fill="#0000e8"/><rect x="1333" y="1079" width="1" height="18" fill="#0000ec"/><rect x="1282" y="1059" width="2" height="38" fill="#0000d8"/><rect x="1267" y="1087" width="1" height="10" fill="#0000f2"/><rect x="950" y="1066" width="1" height="31" fill="#0000ee"/><rect x="1104" y="1077" width="2" height="20" fill="#0000e7"/><rect x="885" y="1086" width="1" height="11" fill="#0000d9"/><rect x="1113" y="1060" width="2" height="37" fill="#0000d3"/><rect x="1264" y="1061" width="2" height="36" fill="#0000c9"/><rect x="1230" y="1068" width="1" height="29" fill="#0000da"/><rect x="1169" y="1083" width="2" height="14" fill="#0000e9"/><rect x="761" y="1090" width="2" height="7" fill="#0000cf"/><rect x="1139" y="1060" width="2" height="37" fill="#0000db"/><rect x="1251" y="1083" width="1" height="14" fill="#0006ff"/><rect x="960" y="1071" width="1" height="26" fill="#0000f4"/><rect x="1258" y="1085" width="1" height="12" fill="#0000ca"/><rect x="1058" y="1067" width="1" height="30" fill="#0000fe"/><rect x="1336" y="1061" width="1" height="36" fill="#0000ed"/><rect x="1116" y="1065" width="1" height="32" fill="#0000ea"/><rect x="958" y="1094" width="2" height="3" fill="#0000f1"/><rect x="1127" y="1095" width="1" height="2" fill="#0000cd"/><rect x="1063" y="1085" width="1" height="12" fill="#0000d0"/><rect x="885" y="1081" width="1" height="16" fill="#0000d2"/><rect x="1036" y="1065" width="1" height="32" fill="#0000d6"/><rect x="769" y="1097" width="2" height="25" fill="#0000ec"/><rect x="797" y="1097" width="1" height="25" fill="#000fff"/><rect x="803" y="1097" width="1" height="25" fill="#0000f4"/><rect x="803" y="1097" width="1" height="9" fill="#003cff"/><rect x="807" y="1097" width="2" height="25" fill="#0000f9"/><rect x="821" y="1097" width="1" height="25" fill="#0000db"/><rect x="821" y="1097" width="1" height="9" fill="#0023ff"/><rect x="825" y="1097" width="1" height="25" fill="#0020ff"/><rect x="825" y="1097" width="1" height="9" fill="#0067ff"/><rect x="829" y="1097" width="2" height="25" fill="#0003ff"/><rect x="829" y="1097" width="2" height="9" fill="#004bff"/><rect x="832" y="1097" width="1" height="25" fill="#0006ff"/><rect x="833" y="1097" width="1" height="25" fill="#0035ff"/><rect x="833" y="1097" width="1" height="9" fill="#007cff"/><rect x="863" y="1097" width="1" height="25" fill="#0000e6"/><rect x="863" y="1097" width="1" height="9" fill="#002eff"/><rect x="864" y="1094" width="1" height="28" fill="#003eff"/><rect x="871" y="1097" width="2" height="25" fill="#0000de"/><rect x="871" y="1097" width="2" height="9" fill="#0027ff"/><rect x="873" y="1097" width="1" height="25" fill="#0000f8"/><rect x="873" y="1097" width="1" height="9" fill="#0040ff"/><rect x="878" y="1097" width="2" height="25" fill="#0000df"/><rect x="882" y="1097" width="1" height="25" fill="#0000db"/><rect x="897" y="1097" width="1" height="25" fill="#0000ee"/><rect x="903" y="1097" width="1" height="25" fill="#0000fc"/><rect x="905" y="1097" width="1" height="25" fill="#0000d4"/><rect x="913" y="1097" width="2" height="25" fill="#0038ff"/><rect x="916" y="1097" width="2" height="25" fill="#0001ff"/><rect x="920" y="1095" width="2" height="27" fill="#0045ff"/><rect x="920" y="1097" width="2" height="9" fill="#008cff"/><rect x="943" y="1097" width="3" height="25" fill="#0001ff"/><rect x="955" y="1097" width="2" height="25" fill="#0000e4"/><rect x="957" y="1090" width="1" height="32" fill="#0043ff"/><rect x="957" y="1097" width="1" height="9" fill="#008bff"/><rect x="961" y="1089" width="1" height="33" fill="#0000f3"/><rect x="1002" y="1097" width="1" height="25" fill="#0005ff"/><rect x="1002" y="1097" width="1" height="9" fill="#004cff"/><rect x="1007" y="1097" width="3" height="25" fill="#005eff"/><rect x="1011" y="1097" width="2" height="25" fill="#0022ff"/><rect x="1011" y="1097" width="2" height="9" fill="#006aff"/><rect x="1016" y="1097" width="3" height="25" fill="#004fff"/><rect x="1019" y="1097" width="1" height="25" fill="#0000e0"/><rect x="1019" y="1097" width="1" height="9" fill="#0029ff"/><rect x="1029" y="1097" width="2" height="25" fill="#0034ff"/><rect x="1031" y="1097" width="1" height="25" fill="#0000ed"/><rect x="1041" y="1097" width="1" height="25" fill="#0000fd"/><rect x="1042" y="1097" width="1" height="25" fill="#003aff"/><rect x="1042" y="1097" width="1" height="9" fill="#0081ff"/><rect x="1048" y="1097" width="2" height="25" fill="#0002ff"/><rect x="1048" y="1097" width="2" height="9" fill="#0049ff"/><rect x="1051" y="1097" width="1" height="25" fill="#0094ff"/><rect x="1051" y="1097" width="1" height="9" fill="#00dcff"/><rect x="1054" y="1097" width="2" height="25" fill="#0000e0"/><rect x="1057" y="1097" width="2" height="25" fill="#0096ff"/><rect x="1060" y="1097" width="1" height="25" fill="#0022ff"/><rect x="1063" y="1097" width="2" height="25" fill="#0000ea"/><rect x="1063" y="1097" width="2" height="9" fill="#0033ff"/><rect x="1068" y="1091" width="3" height="31" fill="#0000ec"/><rect x="1068" y="1097" width="3" height="9" fill="#0035ff"/><rect x="1074" y="1097" width="1" height="25" fill="#001fff"/><rect x="1074" y="1097" width="1" height="9" fill="#0066ff"/><rect x="1075" y="1097" width="1" height="25" fill="#0008ff"/><rect x="1075" y="1097" width="1" height="9" fill="#004fff"/><rect x="1077" y="1085" width="2" height="37" fill="#008dff"/><rect x="1077" y="1097" width="2" height="9" fill="#00d5ff"/><rect x="1080" y="1097" width="3" height="25" fill="#005fff"/><rect x="1080" y="1097" width="3" height="9" fill="#00a6ff"/><rect x="1086" y="1097" width="2" height="25" fill="#0092ff"/><rect x="1090" y="1097" width="2" height="25" fill="#0055ff"/><rect x="1090" y="1097" width="2" height="9" fill="#009dff"/><rect x="1093" y="1097" width="1" height="25" fill="#0000ec"/><rect x="1093" y="1097" width="1" height="9" fill="#0035ff"/><rect x="1096" y="1097" width="3" height="25" fill="#0028ff"/><rect x="1096" y="1097" width="3" height="9" fill="#006fff"/><rect x="1101" y="1097" width="1" height="25" fill="#0000e4"/><rect x="1104" y="1097" width="1" height="25" fill="#0000e9"/><rect x="1104" y="1097" width="1" height="9" fill="#0031ff"/><rect x="1107" y="1097" width="1" height="25" fill="#0017ff"/><rect x="1107" y="1097" width="1" height="9" fill="#005fff"/><rect x="1111" y="1097" width="1" height="25" fill="#008fff"/><rect x="1113" y="1091" width="1" height="31" fill="#0024ff"/><rect x="1114" y="1092" width="3" height="30" fill="#0039ff"/><rect x="1114" y="1097" width="3" height="9" fill="#0081ff"/><rect x="1117" y="1097" width="1" height="25" fill="#000eff"/><rect x="1117" y="1097" width="1" height="9" fill="#0056ff"/><rect x="1118" y="1097" width="2" height="25" fill="#0000f5"/><rect x="1118" y="1097" width="2" height="9" fill="#003dff"/><rect x="1123" y="1097" width="3" height="25" fill="#0017ff"/><rect x="1123" y="1097" width="3" height="9" fill="#005fff"/><rect x="1127" y="1091" width="2" height="31" fill="#0046ff"/><rect x="1129" y="1081" width="3" height="41" fill="#0000da"/><rect x="1132" y="1082" width="1" height="40" fill="#0001ff"/><rect x="1132" y="1097" width="1" height="9" fill="#0048ff"/><rect x="1136" y="1097" width="3" height="25" fill="#0003ff"/><rect x="1136" y="1097" width="3" height="9" fill="#004bff"/><rect x="1147" y="1097" width="2" height="25" fill="#0028ff"/><rect x="1159" y="1097" width="2" height="25" fill="#0049ff"/><rect x="1178" y="1097" width="3" height="25" fill="#003fff"/><rect x="1201" y="1097" width="1" height="25" fill="#0000e0"/><rect x="1230" y="1097" width="2" height="25" fill="#003fff"/><rect x="1234" y="1097" width="3" height="25" fill="#0065ff"/><rect x="1237" y="1097" width="1" height="25" fill="#0000d6"/><rect x="1237" y="1097" width="1" height="9" fill="#001eff"/><rect x="1242" y="1090" width="1" height="32" fill="#0079ff"/><rect x="1242" y="1097" width="1" height="9" fill="#00c1ff"/><rect x="1245" y="1088" width="1" height="34" fill="#0000ec"/><rect x="1245" y="1097" width="1" height="9" fill="#0035ff"/><rect x="1246" y="1092" width="1" height="30" fill="#0050ff"/><rect x="1248" y="1082" width="2" height="40" fill="#0065ff"/><rect x="1248" y="1097" width="2" height="9" fill="#00adff"/><rect x="1251" y="1097" width="1" height="25" fill="#0052ff"/><rect x="1255" y="1097" width="2" height="25" fill="#0064ff"/><rect x="1260" y="1097" width="1" height="25" fill="#0057ff"/><rect x="1260" y="1097" width="1" height="9" fill="#009fff"/><rect x="1263" y="1085" width="1" height="37" fill="#0058ff"/><rect x="1263" y="1097" width="1" height="9" fill="#00a0ff"/><rect x="1264" y="1097" width="2" height="25" fill="#005aff"/><rect x="1264" y="1097" width="2" height="9" fill="#00a1ff"/><rect x="1268" y="1084" width="2" height="38" fill="#0096ff"/><rect x="1270" y="1097" width="1" height="25" fill="#0015ff"/><rect x="1274" y="1097" width="1" height="25" fill="#0054ff"/><rect x="1274" y="1097" width="1" height="9" fill="#009cff"/><rect x="1275" y="1097" width="1" height="25" fill="#0067ff"/><rect x="1275" y="1097" width="1" height="9" fill="#00aeff"/><rect x="1278" y="1097" width="2" height="25" fill="#0026ff"/><rect x="1283" y="1097" width="1" height="25" fill="#0000f5"/><rect x="1285" y="1097" width="1" height="25" fill="#0000f6"/><rect x="1287" y="1097" width="2" height="25" fill="#003fff"/><rect x="1289" y="1097" width="2" height="25" fill="#0073ff"/><rect x="1289" y="1097" width="2" height="9" fill="#00bbff"/><rect x="1299" y="1097" width="2" height="25" fill="#0093ff"/><rect x="1302" y="1097" width="1" height="25" fill="#0000dc"/><rect x="1302" y="1097" width="1" height="9" fill="#0025ff"/><rect x="1303" y="1097" width="3" height="25" fill="#0000fc"/><rect x="1309" y="1097" width="1" height="25" fill="#0082ff"/><rect x="1312" y="1080" width="1" height="42" fill="#007cff"/><rect x="1313" y="1095" width="1" height="27" fill="#0066ff"/><rect x="1313" y="1097" width="1" height="9" fill="#00aeff"/><rect x="1316" y="1097" width="1" height="25" fill="#0014ff"/><rect x="1316" y="1097" width="1" height="9" fill="#005bff"/><rect x="1318" y="1097" width="1" height="25" fill="#005eff"/><rect x="1322" y="1097" width="1" height="25" fill="#0034ff"/><rect x="1322" y="1097" width="1" height="9" fill="#007cff"/><rect x="1329" y="1088" width="1" height="34" fill="#0007ff"/><rect x="1330" y="1097" width="1" height="25" fill="#0000f2"/><rect x="1331" y="1097" width="1" height="25" fill="#0087ff"/><rect x="1331" y="1097" width="1" height="9" fill="#00ceff"/><rect x="1335" y="1097" width="1" height="25" fill="#0036ff"/><rect x="1336" y="1081" width="1" height="41" fill="#0002ff"/><rect x="1336" y="1097" width="1" height="9" fill="#004aff"/><rect x="1339" y="1097" width="3" height="25" fill="#0053ff"/><rect x="1339" y="1097" width="3" height="9" fill="#009aff"/><rect x="1342" y="1097" width="1" height="25" fill="#001dff"/><rect x="1342" y="1097" width="1" height="9" fill="#0064ff"/><rect x="1343" y="1097" width="3" height="25" fill="#0068ff"/><rect x="1343" y="1097" width="3" height="9" fill="#00b0ff"/><rect x="1348" y="1081" width="1" height="41" fill="#0048ff"/><rect x="1349" y="1097" width="1" height="25" fill="#0060ff"/><rect x="1349" y="1097" width="1" height="9" fill="#00a7ff"/><rect x="1352" y="1097" width="1" height="25" fill="#00a4ff"/><rect x="1352" y="1097" width="1" height="9" fill="#00ecff"/><rect x="1355" y="1097" width="3" height="25" fill="#0091ff"/><rect x="1361" y="1097" width="1" height="25" fill="#001dff"/><rect x="1078" y="1012" width="3" height="11" fill="#0013ff"/><rect x="1078" y="1021" width="3" height="11" fill="#0044ff"/><rect x="1078" y="1030" width="3" height="11" fill="#0070ff"/><rect x="1078" y="1040" width="3" height="11" fill="#0099ff"/><rect x="1078" y="1049" width="3" height="11" fill="#00c0ff"/><rect x="1078" y="1058" width="3" height="11" fill="#00e5ff"/><rect x="1078" y="1067" width="3" height="11" fill="#0afff4"/><rect x="1078" y="1076" width="3" height="11" fill="#2dffd1"/><rect x="1078" y="1085" width="3" height="11" fill="#4fffaf"/><rect x="1078" y="1094" width="3" height="11" fill="#71ff8d"/><rect x="1078" y="1104" width="3" height="11" fill="#92ff6c"/><rect x="1078" y="1113" width="3" height="11" fill="#b2ff4c"/><rect x="1079" y="1030" width="2" height="9" fill="#001aff"/><rect x="1079" y="1038" width="2" height="9" fill="#0050ff"/><rect x="1079" y="1045" width="2" height="9" fill="#0081ff"/><rect x="1079" y="1053" width="2" height="9" fill="#00aeff"/><rect x="1079" y="1061" width="2" height="9" fill="#00d9ff"/><rect x="1079" y="1068" width="2" height="9" fill="#03fffb"/><rect x="1079" y="1076" width="2" height="9" fill="#2bffd3"/><rect x="1079" y="1084" width="2" height="9" fill="#52ffac"/><rect x="1079" y="1091" width="2" height="9" fill="#78ff86"/><rect x="1079" y="1099" width="2" height="9" fill="#9dff61"/><rect x="1079" y="1107" width="2" height="9" fill="#c1ff3d"/><rect x="1079" y="1114" width="2" height="9" fill="#e5ff19"/><rect x="1101" y="1027" width="3" height="9" fill="#000cff"/><rect x="1101" y="1035" width="3" height="9" fill="#0038ff"/><rect x="1101" y="1043" width="3" height="9" fill="#005fff"/><rect x="1101" y="1051" width="3" height="9" fill="#0083ff"/><rect x="1101" y="1059" width="3" height="9" fill="#00a6ff"/><rect x="1101" y="1067" width="3" height="9" fill="#00c8ff"/><rect x="1101" y="1074" width="3" height="9" fill="#00e8ff"/><rect x="1101" y="1082" width="3" height="9" fill="#08fff6"/><rect x="1101" y="1090" width="3" height="9" fill="#27ffd7"/><rect x="1101" y="1098" width="3" height="9" fill="#45ffb9"/><rect x="1101" y="1106" width="3" height="9" fill="#62ff9c"/><rect x="1101" y="1114" width="3" height="9" fill="#7fff7f"/><rect x="1333" y="1056" width="5" height="7" fill="#000cff"/><rect x="1333" y="1062" width="5" height="7" fill="#0038ff"/><rect x="1333" y="1067" width="5" height="7" fill="#005fff"/><rect x="1333" y="1072" width="5" height="7" fill="#0083ff"/><rect x="1333" y="1078" width="5" height="7" fill="#00a6ff"/><rect x="1333" y="1084" width="5" height="7" fill="#00c8ff"/><rect x="1333" y="1089" width="5" height="7" fill="#00e8ff"/><rect x="1333" y="1094" width="5" height="7" fill="#08fff6"/><rect x="1333" y="1100" width="5" height="7" fill="#27ffd7"/><rect x="1333" y="1106" width="5" height="7" fill="#45ffb9"/><rect x="1333" y="1111" width="5" height="7" fill="#62ff9c"/><rect x="1333" y="1116" width="5" height="7" fill="#7fff7f"/><rect x="1334" y="1040" width="3" height="8" fill="#0000ef"/><rect x="1334" y="1047" width="3" height="8" fill="#0007ff"/><rect x="1334" y="1054" width="3" height="8" fill="#001cff"/><rect x="1334" y="1060" width="3" height="8" fill="#002fff"/><rect x="1334" y="1067" width="3" height="8" fill="#0041ff"/><rect x="1334" y="1074" width="3" height="8" fill="#0052ff"/><rect x="1334" y="1081" width="3" height="8" fill="#0063ff"/><rect x="1334" y="1088" width="3" height="8" fill="#0074ff"/><rect x="1334" y="1095" width="3" height="8" fill="#0084ff"/><rect x="1334" y="1102" width="3" height="8" fill="#0094ff"/><rect x="1334" y="1108" width="3" height="8" fill="#00a3ff"/><rect x="1334" y="1115" width="3" height="8" fill="#00b2ff"/><rect x="1062" y="1065" width="2" height="6" fill="#0000fb"/><rect x="1062" y="1070" width="2" height="6" fill="#001bff"/><rect x="1062" y="1074" width="2" height="6" fill="#0037ff"/><rect x="1062" y="1079" width="2" height="6" fill="#0051ff"/><rect x="1062" y="1084" width="2" height="6" fill="#0069ff"/><rect x="1062" y="1089" width="2" height="6" fill="#0081ff"/><rect x="1062" y="1094" width="2" height="6" fill="#0098ff"/><rect x="1062" y="1098" width="2" height="6" fill="#00afff"/><rect x="1062" y="1103" width="2" height="6" fill="#00c5ff"/><rect x="1062" y="1108" width="2" height="6" fill="#00daff"/><rect x="1062" y="1112" width="2" height="6" fill="#00efff"/><rect x="1062" y="1117" width="2" height="6" fill="#05fff9"/><rect x="1124" y="1080" width="3" height="5" fill="#0000f8"/><rect x="1124" y="1084" width="3" height="5" fill="#0016ff"/><rect x="1124" y="1087" width="3" height="5" fill="#0030ff"/><rect x="1124" y="1090" width="3" height="5" fill="#0048ff"/><rect x="1124" y="1094" width="3" height="5" fill="#005fff"/><rect x="1124" y="1098" width="3" height="5" fill="#0076ff"/><rect x="1124" y="1101" width="3" height="5" fill="#008bff"/><rect x="1124" y="1104" width="3" height="5" fill="#00a0ff"/><rect x="1124" y="1108" width="3" height="5" fill="#00b4ff"/><rect x="1124" y="1112" width="3" height="5" fill="#00c8ff"/><rect x="1124" y="1115" width="3" height="5" fill="#00dcff"/><rect x="1124" y="1118" width="3" height="5" fill="#00efff"/><rect x="1354" y="1070" width="3" height="6" fill="#0000ef"/><rect x="1354" y="1074" width="3" height="6" fill="#0007ff"/><rect x="1354" y="1079" width="3" height="6" fill="#001cff"/><rect x="1354" y="1083" width="3" height="6" fill="#002fff"/><rect x="1354" y="1087" width="3" height="6" fill="#0041ff"/><rect x="1354" y="1092" width="3" height="6" fill="#0052ff"/><rect x="1354" y="1096" width="3" height="6" fill="#0063ff"/><rect x="1354" y="1100" width="3" height="6" fill="#0074ff"/><rect x="1354" y="1105" width="3" height="6" fill="#0084ff"/><rect x="1354" y="1109" width="3" height="6" fill="#0094ff"/><rect x="1354" y="1113" width="3" height="6" fill="#00a3ff"/><rect x="1354" y="1118" width="3" height="6" fill="#00b2ff"/><rect x="1358" y="1085" width="3" height="5" fill="#0000f4"/><rect x="1358" y="1088" width="3" height="5" fill="#000eff"/><rect x="1358" y="1091" width="3" height="5" fill="#0026ff"/><rect x="1358" y="1094" width="3" height="5" fill="#003bff"/><rect x="1358" y="1097" width="3" height="5" fill="#0050ff"/><rect x="1358" y="1100" width="3" height="5" fill="#0064ff"/><rect x="1358" y="1104" width="3" height="5" fill="#0077ff"/><rect x="1358" y="1107" width="3" height="5" fill="#008aff"/><rect x="1358" y="1110" width="3" height="5" fill="#009cff"/><rect x="1358" y="1113" width="3" height="5" fill="#00aeff"/><rect x="1358" y="1116" width="3" height="5" fill="#00bfff"/><rect x="1358" y="1119" width="3" height="5" fill="#00d1ff"/><rect x="1345" y="1097" width="6" height="4" fill="#0000f8"/><rect x="1345" y="1099" width="6" height="4" fill="#0016ff"/><rect x="1345" y="1101" width="6" height="4" fill="#0030ff"/><rect x="1345" y="1103" width="6" height="4" fill="#0048ff"/><rect x="1345" y="1105" width="6" height="4" fill="#005fff"/><rect x="1345" y="1107" width="6" height="4" fill="#0076ff"/><rect x="1345" y="1110" width="6" height="4" fill="#008bff"/><rect x="1345" y="1112" width="6" height="4" fill="#00a0ff"/><rect x="1345" y="1114" width="6" height="4" fill="#00b4ff"/><rect x="1345" y="1116" width="6" height="4" fill="#00c8ff"/><rect x="1345" y="1118" width="6" height="4" fill="#00dcff"/><rect x="1345" y="1120" width="6" height="4" fill="#00efff"/></g></g>
<g id="midgrid"><line x1="261" y1="975.5" x2="733" y2="975.5" stroke="#000" stroke-width="1" stroke-dasharray="1 4" shape-rendering="crispEdges"/><line x1="1366" y1="975.5" x2="1810" y2="975.5" stroke="#000" stroke-width="1" stroke-dasharray="1 4" shape-rendering="crispEdges"/><line x1="261" y1="980.5" x2="733" y2="980.5" stroke="#000" stroke-width="1" stroke-dasharray="1 4" shape-rendering="crispEdges"/><line x1="1366" y1="980.5" x2="1810" y2="980.5" stroke="#000" stroke-width="1" stroke-dasharray="1 4" shape-rendering="crispEdges"/><line x1="261" y1="984.5" x2="733" y2="984.5" stroke="#000" stroke-width="1" stroke-dasharray="1 4" shape-rendering="crispEdges"/><line x1="1366" y1="984.5" x2="1810" y2="984.5" stroke="#000" stroke-width="1" stroke-dasharray="1 4" shape-rendering="crispEdges"/><line x1="261" y1="987.5" x2="733" y2="987.5" stroke="#000" stroke-width="1" stroke-dasharray="1 4" shape-rendering="crispEdges"/><line x1="1366" y1="987.5" x2="1810" y2="987.5" stroke="#000" stroke-width="1" stroke-dasharray="1 4" shape-rendering="crispEdges"/><line x1="261" y1="990.5" x2="733" y2="990.5" stroke="#000" stroke-width="1" stroke-dasharray="1 4" shape-rendering="crispEdges"/><line x1="1366" y1="990.5" x2="1810" y2="990.5" stroke="#000" stroke-width="1" stroke-dasharray="1 4" shape-rendering="crispEdges"/><line x1="261" y1="993.5" x2="733" y2="993.5" stroke="#000" stroke-width="1" stroke-dasharray="1 4" shape-rendering="crispEdges"/><line x1="1366" y1="993.5" x2="1810" y2="993.5" stroke="#000" stroke-width="1" stroke-dasharray="1 4" shape-rendering="crispEdges"/><line x1="261" y1="995.5" x2="733" y2="995.5" stroke="#000" stroke-width="1" stroke-dasharray="1 4" shape-rendering="crispEdges"/><line x1="1366" y1="995.5" x2="1810" y2="995.5" stroke="#000" stroke-width="1" stroke-dasharray="1 4" shape-rendering="crispEdges"/><line x1="261" y1="1010.5" x2="733" y2="1010.5" stroke="#000" stroke-width="1" stroke-dasharray="1 4" shape-rendering="crispEdges"/><line x1="1366" y1="1010.5" x2="1810" y2="1010.5" stroke="#000" stroke-width="1" stroke-dasharray="1 4" shape-rendering="crispEdges"/><line x1="261" y1="1019.5" x2="733" y2="1019.5" stroke="#000" stroke-width="1" stroke-dasharray="1 4" shape-rendering="crispEdges"/><line x1="1366" y1="1019.5" x2="1810" y2="1019.5" stroke="#000" stroke-width="1" stroke-dasharray="1 4" shape-rendering="crispEdges"/><line x1="261" y1="1026.5" x2="733" y2="1026.5" stroke="#000" stroke-width="1" stroke-dasharray="1 4" shape-rendering="crispEdges"/><line x1="1366" y1="1026.5" x2="1810" y2="1026.5" stroke="#000" stroke-width="1" stroke-dasharray="1 4" shape-rendering="crispEdges"/><line x1="261" y1="1031.5" x2="733" y2="1031.5" stroke="#000" stroke-width="1" stroke-dasharray="1 4" shape-rendering="crispEdges"/><line x1="1366" y1="1031.5" x2="1810" y2="1031.5" stroke="#000" stroke-width="1" stroke-dasharray="1 4" shape-rendering="crispEdges"/><line x1="261" y1="1035.5" x2="733" y2="1035.5" stroke="#000" stroke-width="1" stroke-dasharray="1 4" shape-rendering="crispEdges"/><line x1="1366" y1="1035.5" x2="1810" y2="1035.5" stroke="#000" stroke-width="1" stroke-dasharray="1 4" shape-rendering="crispEdges"/><line x1="261" y1="1038.5" x2="733" y2="1038.5" stroke="#000" stroke-width="1" stroke-dasharray="1 4" shape-rendering="crispEdges"/><line x1="1366" y1="1038.5" x2="1810" y2="1038.5" stroke="#000" stroke-width="1" stroke-dasharray="1 4" shape-rendering="crispEdges"/><line x1="261" y1="1041.5" x2="733" y2="1041.5" stroke="#000" stroke-width="1" stroke-dasharray="1 4" shape-rendering="crispEdges"/><line x1="1366" y1="1041.5" x2="1810" y2="1041.5" stroke="#000" stroke-width="1" stroke-dasharray="1 4" shape-rendering="crispEdges"/><line x1="261" y1="1044.5" x2="733" y2="1044.5" stroke="#000" stroke-width="1" stroke-dasharray="1 4" shape-rendering="crispEdges"/><line x1="1366" y1="1044.5" x2="1810" y2="1044.5" stroke="#000" stroke-width="1" stroke-dasharray="1 4" shape-rendering="crispEdges"/><line x1="261" y1="1046.5" x2="733" y2="1046.5" stroke="#000" stroke-width="1" stroke-dasharray="1 4" shape-rendering="crispEdges"/><line x1="1366" y1="1046.5" x2="1810" y2="1046.5" stroke="#000" stroke-width="1" stroke-dasharray="1 4" shape-rendering="crispEdges"/><line x1="261" y1="1061.5" x2="733" y2="1061.5" stroke="#000" stroke-width="1" stroke-dasharray="1 4" shape-rendering="crispEdges"/><line x1="1366" y1="1061.5" x2="1810" y2="1061.5" stroke="#000" stroke-width="1" stroke-dasharray="1 4" shape-rendering="crispEdges"/><line x1="261" y1="1070.5" x2="733" y2="1070.5" stroke="#000" stroke-width="1" stroke-dasharray="1 4" shape-rendering="crispEdges"/><line x1="1366" y1="1070.5" x2="1810" y2="1070.5" stroke="#000" stroke-width="1" stroke-dasharray="1 4" shape-rendering="crispEdges"/><line x1="261" y1="1077.5" x2="733" y2="1077.5" stroke="#000" stroke-width="1" stroke-dasharray="1 4" shape-rendering="crispEdges"/><line x1="1366" y1="1077.5" x2="1810" y2="1077.5" stroke="#000" stroke-width="1" stroke-dasharray="1 4" shape-rendering="crispEdges"/><line x1="261" y1="1082.5" x2="733" y2="1082.5" stroke="#000" stroke-width="1" stroke-dasharray="1 4" shape-rendering="crispEdges"/><line x1="1366" y1="1082.5" x2="1810" y2="1082.5" stroke="#000" stroke-width="1" stroke-dasharray="1 4" shape-rendering="crispEdges"/><line x1="261" y1="1086.5" x2="733" y2="1086.5" stroke="#000" stroke-width="1" stroke-dasharray="1 4" shape-rendering="crispEdges"/><line x1="1366" y1="1086.5" x2="1810" y2="1086.5" stroke="#000" stroke-width="1" stroke-dasharray="1 4" shape-rendering="crispEdges"/><line x1="261" y1="1089.5" x2="733" y2="1089.5" stroke="#000" stroke-width="1" stroke-dasharray="1 4" shape-rendering="crispEdges"/><line x1="1366" y1="1089.5" x2="1810" y2="1089.5" stroke="#000" stroke-width="1" stroke-dasharray="1 4" shape-rendering="crispEdges"/><line x1="261" y1="1092.5" x2="733" y2="1092.5" stroke="#000" stroke-width="1" stroke-dasharray="1 4" shape-rendering="crispEdges"/><line x1="1366" y1="1092.5" x2="1810" y2="1092.5" stroke="#000" stroke-width="1" stroke-dasharray="1 4" shape-rendering="crispEdges"/><line x1="261" y1="1095.5" x2="733" y2="1095.5" stroke="#000" stroke-width="1" stroke-dasharray="1 4" shape-rendering="crispEdges"/><line x1="1366" y1="1095.5" x2="1810" y2="1095.5" stroke="#000" stroke-width="1" stroke-dasharray="1 4" shape-rendering="crispEdges"/><line x1="261" y1="1097.5" x2="733" y2="1097.5" stroke="#000" stroke-width="1" stroke-dasharray="1 4" shape-rendering="crispEdges"/><line x1="1366" y1="1097.5" x2="1810" y2="1097.5" stroke="#000" stroke-width="1" stroke-dasharray="1 4" shape-rendering="crispEdges"/><line x1="261" y1="1112.5" x2="733" y2="1112.5" stroke="#000" stroke-width="1" stroke-dasharray="1 4" shape-rendering="crispEdges"/><line x1="1366" y1="1112.5" x2="1810" y2="1112.5" stroke="#000" stroke-width="1" stroke-dasharray="1 4" shape-rendering="crispEdges"/><line x1="261" y1="1121.5" x2="733" y2="1121.5" stroke="#000" stroke-width="1" stroke-dasharray="1 4" shape-rendering="crispEdges"/><line x1="1366" y1="1121.5" x2="1810" y2="1121.5" stroke="#000" stroke-width="1" stroke-dasharray="1 4" shape-rendering="crispEdges"/><line x1="441.5" y1="970" x2="441.5" y2="1122" stroke="#000" stroke-width="1" stroke-dasharray="1 4" shape-rendering="crispEdges"/><line x1="621.5" y1="970" x2="621.5" y2="1122" stroke="#000" stroke-width="1" stroke-dasharray="1 4" shape-rendering="crispEdges"/><line x1="802.5" y1="970" x2="802.5" y2="1122" stroke="#000" stroke-width="1" stroke-dasharray="1 4" shape-rendering="crispEdges"/><line x1="982.5" y1="970" x2="982.5" y2="1122" stroke="#000" stroke-width="1" stroke-dasharray="1 4" shape-rendering="crispEdges"/><line x1="1163.5" y1="970" x2="1163.5" y2="1122" stroke="#000" stroke-width="1" stroke-dasharray="1 4" shape-rendering="crispEdges"/><line x1="1343.5" y1="970" x2="1343.5" y2="1122" stroke="#000" stroke-width="1" stroke-dasharray="1 4" shape-rendering="crispEdges"/><line x1="1628.5" y1="970" x2="1628.5" y2="1122" stroke="#000" stroke-width="1" stroke-dasharray="1 4" shape-rendering="crispEdges"/></g>
<g><line x1="260" y1="975.5" x2="267" y2="975.5" stroke="#000" stroke-width="1" shape-rendering="crispEdges"/><line x1="1803" y1="975.5" x2="1810" y2="975.5" stroke="#000" stroke-width="1" shape-rendering="crispEdges"/><line x1="260" y1="980.5" x2="267" y2="980.5" stroke="#000" stroke-width="1" shape-rendering="crispEdges"/><line x1="1803" y1="980.5" x2="1810" y2="980.5" stroke="#000" stroke-width="1" shape-rendering="crispEdges"/><line x1="260" y1="984.5" x2="267" y2="984.5" stroke="#000" stroke-width="1" shape-rendering="crispEdges"/><line x1="1803" y1="984.5" x2="1810" y2="984.5" stroke="#000" stroke-width="1" shape-rendering="crispEdges"/><line x1="260" y1="987.5" x2="267" y2="987.5" stroke="#000" stroke-width="1" shape-rendering="crispEdges"/><line x1="1803" y1="987.5" x2="1810" y2="987.5" stroke="#000" stroke-width="1" shape-rendering="crispEdges"/><line x1="260" y1="990.5" x2="267" y2="990.5" stroke="#000" stroke-width="1" shape-rendering="crispEdges"/><line x1="1803" y1="990.5" x2="1810" y2="990.5" stroke="#000" stroke-width="1" shape-rendering="crispEdges"/><line x1="260" y1="993.5" x2="267" y2="993.5" stroke="#000" stroke-width="1" shape-rendering="crispEdges"/><line x1="1803" y1="993.5" x2="1810" y2="993.5" stroke="#000" stroke-width="1" shape-rendering="crispEdges"/><line x1="260" y1="995.5" x2="275" y2="995.5" stroke="#000" stroke-width="1" shape-rendering="crispEdges"/><line x1="1795" y1="995.5" x2="1810" y2="995.5" stroke="#000" stroke-width="1" shape-rendering="crispEdges"/><line x1="260" y1="1010.5" x2="267" y2="1010.5" stroke="#000" stroke-width="1" shape-rendering="crispEdges"/><line x1="1803" y1="1010.5" x2="1810" y2="1010.5" stroke="#000" stroke-width="1" shape-rendering="crispEdges"/><line x1="260" y1="1019.5" x2="267" y2="1019.5" stroke="#000" stroke-width="1" shape-rendering="crispEdges"/><line x1="1803" y1="1019.5" x2="1810" y2="1019.5" stroke="#000" stroke-width="1" shape-rendering="crispEdges"/><line x1="260" y1="1026.5" x2="267" y2="1026.5" stroke="#000" stroke-width="1" shape-rendering="crispEdges"/><line x1="1803" y1="1026.5" x2="1810" y2="1026.5" stroke="#000" stroke-width="1" shape-rendering="crispEdges"/><line x1="260" y1="1031.5" x2="267" y2="1031.5" stroke="#000" stroke-width="1" shape-rendering="crispEdges"/><line x1="1803" y1="1031.5" x2="1810" y2="1031.5" stroke="#000" stroke-width="1" shape-rendering="crispEdges"/><line x1="260" y1="1035.5" x2="267" y2="1035.5" stroke="#000" stroke-width="1" shape-rendering="crispEdges"/><line x1="1803" y1="1035.5" x2="1810" y2="1035.5" stroke="#000" stroke-width="1" shape-rendering="crispEdges"/><line x1="260" y1="1038.5" x2="267" y2="1038.5" stroke="#000" stroke-width="1" shape-rendering="crispEdges"/><line x1="1803" y1="1038.5" x2="1810" y2="1038.5" stroke="#000" stroke-width="1" shape-rendering="crispEdges"/><line x1="260" y1="1041.5" x2="267" y2="1041.5" stroke="#000" stroke-width="1" shape-rendering="crispEdges"/><line x1="1803" y1="1041.5" x2="1810" y2="1041.5" stroke="#000" stroke-width="1" shape-rendering="crispEdges"/><line x1="260" y1="1044.5" x2="267" y2="1044.5" stroke="#000" stroke-width="1" shape-rendering="crispEdges"/><line x1="1803" y1="1044.5" x2="1810" y2="1044.5" stroke="#000" stroke-width="1" shape-rendering="crispEdges"/><line x1="260" y1="1046.5" x2="275" y2="1046.5" stroke="#000" stroke-width="1" shape-rendering="crispEdges"/><line x1="1795" y1="1046.5" x2="1810" y2="1046.5" stroke="#000" stroke-width="1" shape-rendering="crispEdges"/><line x1="260" y1="1061.5" x2="267" y2="1061.5" stroke="#000" stroke-width="1" shape-rendering="crispEdges"/><line x1="1803" y1="1061.5" x2="1810" y2="1061.5" stroke="#000" stroke-width="1" shape-rendering="crispEdges"/><line x1="260" y1="1070.5" x2="267" y2="1070.5" stroke="#000" stroke-width="1" shape-rendering="crispEdges"/><line x1="1803" y1="1070.5" x2="1810" y2="1070.5" stroke="#000" stroke-width="1" shape-rendering="crispEdges"/><line x1="260" y1="1077.5" x2="267" y2="1077.5" stroke="#000" stroke-width="1" shape-rendering="crispEdges"/><line x1="1803" y1="1077.5" x2="1810" y2="1077.5" stroke="#000" stroke-width="1" shape-rendering="crispEdges"/><line x1="260" y1="1082.5" x2="267" y2="1082.5" stroke="#000" stroke-width="1" shape-rendering="crispEdges"/><line x1="1803" y1="1082.5" x2="1810" y2="1082.5" stroke="#000" stroke-width="1" shape-rendering="crispEdges"/><line x1="260" y1="1086.5" x2="267" y2="1086.5" stroke="#000" stroke-width="1" shape-rendering="crispEdges"/><line x1="1803" y1="1086.5" x2="1810" y2="1086.5" stroke="#000" stroke-width="1" shape-rendering="crispEdges"/><line x1="260" y1="1089.5" x2="267" y2="1089.5" stroke="#000" stroke-width="1" shape-rendering="crispEdges"/><line x1="1803" y1="1089.5" x2="1810" y2="1089.5" stroke="#000" stroke-width="1" shape-rendering="crispEdges"/><line x1="260" y1="1092.5" x2="267" y2="1092.5" stroke="#000" stroke-width="1" shape-rendering="crispEdges"/><line x1="1803" y1="1092.5" x2="1810" y2="1092.5" stroke="#000" stroke-width="1" shape-rendering="crispEdges"/><line x1="260" y1="1095.5" x2="267" y2="1095.5" stroke="#000" stroke-width="1" shape-rendering="crispEdges"/><line x1="1803" y1="1095.5" x2="1810" y2="1095.5" stroke="#000" stroke-width="1" shape-rendering="crispEdges"/><line x1="260" y1="1097.5" x2="275" y2="1097.5" stroke="#000" stroke-width="1" shape-rendering="crispEdges"/><line x1="1795" y1="1097.5" x2="1810" y2="1097.5" stroke="#000" stroke-width="1" shape-rendering="crispEdges"/><line x1="260" y1="1112.5" x2="267" y2="1112.5" stroke="#000" stroke-width="1" shape-rendering="crispEdges"/><line x1="1803" y1="1112.5" x2="1810" y2="1112.5" stroke="#000" stroke-width="1" shape-rendering="crispEdges"/><line x1="260" y1="1121.5" x2="267" y2="1121.5" stroke="#000" stroke-width="1" shape-rendering="crispEdges"/><line x1="1803" y1="1121.5" x2="1810" y2="1121.5" stroke="#000" stroke-width="1" shape-rendering="crispEdges"/><line x1="441.5" y1="969" x2="441.5" y2="985" stroke="#000" stroke-width="1" shape-rendering="crispEdges"/><line x1="441.5" y1="1106" x2="441.5" y2="1122" stroke="#000" stroke-width="1" shape-rendering="crispEdges"/><line x1="621.5" y1="969" x2="621.5" y2="985" stroke="#000" stroke-width="1" shape-rendering="crispEdges"/><line x1="621.5" y1="1106" x2="621.5" y2="1122" stroke="#000" stroke-width="1" shape-rendering="crispEdges"/><line x1="802.5" y1="969" x2="802.5" y2="985" stroke="#000" stroke-width="1" shape-rendering="crispEdges"/><line x1="802.5" y1="1106" x2="802.5" y2="1122" stroke="#000" stroke-width="1" shape-rendering="crispEdges"/><line x1="982.5" y1="969" x2="982.5" y2="985" stroke="#000" stroke-width="1" shape-rendering="crispEdges"/><line x1="982.5" y1="1106" x2="982.5" y2="1122" stroke="#000" stroke-width="1" shape-rendering="crispEdges"/><line x1="1163.5" y1="969" x2="1163.5" y2="985" stroke="#000" stroke-width="1" shape-rendering="crispEdges"/><line x1="1163.5" y1="1106" x2="1163.5" y2="1122" stroke="#000" stroke-width="1" shape-rendering="crispEdges"/><line x1="1343.5" y1="969" x2="1343.5" y2="985" stroke="#000" stroke-width="1" shape-rendering="crispEdges"/><line x1="1343.5" y1="1106" x2="1343.5" y2="1122" stroke="#000" stroke-width="1" shape-rendering="crispEdges"/><line x1="1628.5" y1="969" x2="1628.5" y2="985" stroke="#000" stroke-width="1" shape-rendering="crispEdges"/><line x1="1628.5" y1="1106" x2="1628.5" y2="1122" stroke="#000" stroke-width="1" shape-rendering="crispEdges"/></g>
<rect x="260.5" y="969.5" width="1550" height="153" fill="none" stroke="#000" stroke-width="1" shape-rendering="crispEdges"/>
<text x="234.5" y="1004.5" text-anchor="end" font-size="27.5">10</text>
<text class="sm" x="235.5" y="987.5" font-size="18.5">-1</text>
<text x="234.5" y="1055.5" text-anchor="end" font-size="27.5">10</text>
<text class="sm" x="235.5" y="1038.5" font-size="18.5">0</text>
<text x="234.5" y="1106.5" text-anchor="end" font-size="27.5">10</text>
<text class="sm" x="235.5" y="1089.5" font-size="18.5">1</text>
<text transform="translate(185.2,1151.4) rotate(-90)" font-size="27.8">Wavelength (km)</text>
<g id="mapgrid"><line x1="261" y1="1179.5" x2="1810" y2="1179.5" stroke="#000" stroke-width="1" stroke-dasharray="1 4" shape-rendering="crispEdges"/><line x1="261" y1="1244.5" x2="1810" y2="1244.5" stroke="#000" stroke-width="1" stroke-dasharray="1 4" shape-rendering="crispEdges"/><line x1="261" y1="1309.5" x2="1810" y2="1309.5" stroke="#000" stroke-width="1" stroke-dasharray="1 4" shape-rendering="crispEdges"/><line x1="441.5" y1="1134" x2="441.5" y2="1355" stroke="#000" stroke-width="1" stroke-dasharray="1 4" shape-rendering="crispEdges"/><line x1="621.5" y1="1134" x2="621.5" y2="1355" stroke="#000" stroke-width="1" stroke-dasharray="1 4" shape-rendering="crispEdges"/><line x1="802.5" y1="1134" x2="802.5" y2="1355" stroke="#000" stroke-width="1" stroke-dasharray="1 4" shape-rendering="crispEdges"/><line x1="982.5" y1="1134" x2="982.5" y2="1355" stroke="#000" stroke-width="1" stroke-dasharray="1 4" shape-rendering="crispEdges"/><line x1="1163.5" y1="1134" x2="1163.5" y2="1355" stroke="#000" stroke-width="1" stroke-dasharray="1 4" shape-rendering="crispEdges"/><line x1="1343.5" y1="1134" x2="1343.5" y2="1355" stroke="#000" stroke-width="1" stroke-dasharray="1 4" shape-rendering="crispEdges"/><line x1="1628.5" y1="1134" x2="1628.5" y2="1355" stroke="#000" stroke-width="1" stroke-dasharray="1 4" shape-rendering="crispEdges"/></g>
<g id="coast"><g fill="none" stroke="#000" stroke-width="2" stroke-linejoin="round" stroke-linecap="round"><path d="M360.4,1134.2 L356.5,1138.8 L353.4,1145.0 L351.1,1148.2 L352.6,1152.8 L351.9,1155.9 L354.2,1157.5 L354.2,1161.3 L355.8,1165.2 L356.5,1168.3 L355.0,1173.0 L354.2,1177.6 L350.3,1179.9 L350.3,1181.5 L351.9,1184.6 L351.9,1189.2 L352.6,1190.8 L357.3,1193.9 L360.4,1196.2 L363.5,1200.8 L366.6,1203.2 L367.4,1207.0 L368.9,1211.7 L374.4,1214.8 L380.6,1219.5 L385.2,1222.5 L389.9,1225.7 L393.0,1226.4 L396.1,1224.9 L400.7,1222.5 L407.7,1221.0 L410.0,1222.5 L415.4,1224.1 L420.1,1221.8 L424.0,1220.2 L431.7,1217.9 L434.8,1216.7 L442.6,1216.3 L445.6,1217.9 L447.2,1221.0 L448.0,1224.9 L451.9,1226.4 L456.5,1225.7 L462.7,1225.3 L465.8,1228.8 L468.1,1231.8 L466.6,1236.5 L465.8,1242.7 L463.5,1245.8 L463.5,1250.5 L465.8,1255.1 L472.0,1261.3 L475.1,1264.4 L478.2,1270.6 L481.3,1276.8 L482.9,1283.0 L483.6,1287.7 L484.4,1292.3 L482.9,1297.7 L479.0,1301.6 L477.4,1307.8 L475.9,1314.0 L475.9,1323.3 L478.2,1329.5 L480.5,1334.2 L483.6,1338.8 L486.7,1342.7 L488.3,1351.2 L488.3,1355.5"/><path d="M260.4,1261.3 L262.8,1263.6 L268.2,1266.0 L272.1,1266.0 L274.4,1268.3 L275.1,1273.7 L275.1,1280.7 L272.8,1284.5 L269.7,1288.4 L266.6,1291.5 L262.8,1297.0 L260.4,1299.3"/><path d="M482.1,1182.6 L484.4,1183.0 L486.0,1185.7 L489.1,1186.1 L491.4,1186.9 L488.3,1188.8 L486.0,1189.2 L484.1,1186.9 L482.1,1182.6"/><path d="M549.5,1258.5 L551.8,1262.8 L552.6,1267.5 L554.9,1272.9 L556.5,1276.8 L558.8,1282.2 L556.9,1281.5 L554.2,1275.2 L551.8,1270.6 L550.3,1264.4 L549.5,1258.5"/><path d="M575.9,1134.2 L578.2,1139.6 L583.7,1143.5 L586.0,1149.7 L586.8,1160.5 L592.2,1165.2 L593.8,1173.0 L596.9,1177.6 L601.5,1181.5 L606.1,1185.3 L609.2,1188.5 L610.0,1193.1 L613.1,1197.8 L617.0,1199.3 L621.6,1197.8 L627.9,1196.2 L635.6,1194.7 L641.0,1193.9 L644.1,1193.1 L645.7,1196.2 L644.9,1200.8 L643.4,1204.0 L641.8,1207.0 L640.2,1210.9 L637.1,1216.3 L634.0,1221.0 L629.4,1227.2 L623.2,1233.4 L617.0,1236.5 L613.1,1239.6 L610.8,1243.5 L607.7,1247.3 L603.0,1252.0 L598.4,1255.1 L596.1,1261.3 L593.0,1267.5 L592.2,1270.6 L594.5,1273.7 L593.8,1278.3 L595.3,1284.5 L598.4,1289.2 L600.0,1295.4 L600.0,1303.2 L600.7,1309.3 L598.4,1314.0 L593.0,1317.9 L587.5,1320.2 L583.7,1324.8 L578.2,1329.5 L574.4,1334.2 L576.7,1338.8 L577.5,1345.0 L577.5,1355.5"/><path d="M584.5,1134.2 L589.9,1138.8 L592.2,1143.5 L593.0,1151.2 L596.1,1155.9 L600.0,1160.5 L603.0,1165.2 L606.1,1169.8 L608.5,1174.5 L610.0,1179.2 L610.8,1185.3 L611.6,1190.0 L613.9,1189.2 L620.1,1187.7 L623.2,1185.3 L628.6,1183.0 L635.6,1179.2 L641.8,1177.6 L648.0,1174.5 L652.6,1171.4 L657.3,1170.6 L662.0,1167.5 L666.6,1163.7 L671.2,1160.5 L674.4,1155.1 L679.0,1151.2 L682.9,1145.8 L680.5,1142.0 L675.9,1138.1 L669.7,1135.0 L666.6,1134.2"/><path d="M645.7,1134.2 L648.0,1137.3 L654.2,1138.1 L660.4,1135.8 L662.0,1134.2"/><path d="M713.1,1134.2 L719.3,1139.6 L722.4,1142.7 L727.8,1143.5 L725.5,1146.6 L730.1,1151.2 L735.6,1151.2 L737.1,1146.6 L737.9,1152.8 L739.5,1163.7 L741.0,1173.0 L745.6,1180.7 L748.8,1188.5 L753.4,1199.3 L755.0,1207.0 L758.0,1209.4 L761.1,1207.0 L764.2,1204.0 L767.4,1199.3 L768.1,1194.7 L768.9,1186.9 L770.5,1176.0 L778.2,1171.4 L784.4,1165.2 L793.7,1157.5 L799.9,1151.2 L804.5,1147.4 L810.8,1148.2 L818.5,1143.5 L821.6,1149.7 L826.2,1155.9 L829.4,1163.7 L830.9,1174.5 L838.7,1173.0 L843.3,1171.4 L846.4,1179.2 L848.7,1186.9 L849.5,1194.7 L851.8,1202.4 L853.4,1208.6 L857.2,1214.8 L860.4,1221.0 L863.5,1227.2 L865.0,1230.3"/><path d="M768.1,1202.4 L772.8,1202.4 L776.6,1211.7 L777.4,1216.3 L773.5,1218.7 L769.7,1217.9 L768.1,1213.2 L768.1,1202.4"/><path d="M636.4,1297.0 L639.5,1300.0 L641.0,1306.2 L643.4,1312.5 L641.8,1318.7 L639.5,1324.8 L635.6,1334.2 L631.7,1343.5 L629.4,1352.8 L627.9,1355.5"/><path d="M636.4,1297.0 L632.5,1300.0 L629.4,1306.2 L623.2,1312.5 L617.0,1315.5 L613.9,1321.8 L615.5,1329.5 L613.1,1335.7 L611.6,1341.9 L613.1,1348.1 L613.9,1355.5"/><path d="M561.2,1245.8 L565.9,1243.5 L571.3,1244.2 L572.0,1250.5 L569.0,1255.1 L562.0,1255.9 L560.4,1252.0 L561.2,1245.8"/><path d="M572.0,1285.3 L574.4,1292.3 L575.1,1300.0 L577.5,1307.0 L574.4,1306.2 L572.0,1298.5 L571.3,1290.8 L572.0,1285.3"/><path d="M654.2,1189.7 L657.3,1188.8 L660.7,1190.0 L657.3,1191.2 L654.2,1189.7"/><path d="M824.4,1186.9 L825.5,1189.2 L825.0,1193.1 L823.9,1190.0 L824.4,1186.9"/><path d="M662.7,1336.5 L665.0,1338.0 L663.5,1335.7"/><path d="M671.2,1333.4 L673.6,1332.3 L672.8,1334.2"/><path d="M846.1,1180.0 L847.9,1185.4 L849.7,1193.5 L848.8,1203.4 L850.1,1207.0"/><path d="M856.0,1185.4 L853.3,1193.5 L851.5,1200.7 L850.6,1207.0"/><path d="M856.0,1185.4 L860.5,1188.1 L865.0,1190.8 L870.4,1197.1 L875.8,1199.8 L876.7,1205.2 L883.0,1202.5 L888.4,1198.0 L894.7,1194.4 L895.6,1180.0"/><path d="M850.6,1212.0 L856.0,1216.0 L858.7,1225.0 L861.4,1233.1 L867.7,1237.6 L874.0,1238.5 L874.0,1234.9 L871.3,1228.6 L870.4,1222.3 L863.2,1216.0 L857.8,1212.4"/><path d="M834.4,1220.5 L846.1,1221.0 L851.5,1226.8 L858.7,1234.0 L868.6,1239.4 L871.3,1243.0 L875.8,1249.3 L881.2,1253.8 L884.8,1256.5"/><path d="M834.4,1221.4 L840.7,1227.7 L847.0,1234.0 L850.6,1241.2 L855.1,1248.4 L859.6,1255.6 L865.0,1261.0 L870.4,1265.5 L874.0,1267.8"/><path d="M874.0,1267.8 L878.5,1271.8 L884.8,1275.4 L896.5,1278.1 L905.5,1279.9 L914.5,1281.7 L928.0,1283.5 L936.1,1285.3 L940.6,1286.2 L946.0,1287.1"/><path d="M884.8,1256.5 L888.4,1261.0 L896.5,1266.4 L905.5,1270.0 L914.5,1272.7 L923.5,1275.4 L932.5,1277.2 L941.5,1279.0"/><path d="M928.9,1214.2 L932.5,1217.8 L937.0,1221.4 L934.3,1225.0 L931.6,1230.4 L932.5,1235.8 L937.0,1240.3 L932.5,1243.0 L930.7,1248.4 L926.2,1252.0 L924.4,1257.4 L919.0,1261.9 L914.5,1259.2 L910.0,1259.2 L903.7,1257.4 L899.2,1253.8 L897.4,1248.4 L894.7,1243.0 L893.8,1237.6 L901.0,1235.8 L905.5,1230.4 L910.0,1228.6 L914.5,1223.2 L919.0,1221.4 L923.5,1218.7 L928.9,1214.2"/><path d="M936.1,1256.5 L939.7,1251.1 L938.8,1243.0 L944.2,1239.4 L950.5,1238.5 L960.4,1239.4 L964.0,1237.6 L964.9,1238.5 L960.4,1242.1 L953.2,1242.1 L946.9,1244.8 L944.2,1248.4 L950.5,1246.6 L956.8,1247.5 L949.6,1250.2 L946.0,1252.0 L948.7,1256.5 L954.1,1262.8 L955.0,1268.2 L951.4,1267.3 L947.8,1261.0 L944.2,1259.2 L943.3,1264.6 L939.7,1269.1 L938.8,1262.8 L936.1,1256.5"/><path d="M974.8,1234.9 L978.4,1237.6 L977.5,1243.0 L978.4,1246.6 L974.8,1248.4 L973.0,1243.0 L974.8,1234.9"/><path d="M929.8,1207.0 L940.6,1196.2"/><path d="M949.6,1213.3 L955.0,1212.0 L960.4,1213.8 L967.6,1214.7 L969.4,1217.8 L964.9,1220.0 L959.5,1217.8 L956.8,1216.0 L949.6,1213.3"/><path d="M823.6,1187.2 L825.4,1186.8 L825.0,1193.5 L823.6,1193.0 L823.6,1187.2"/><path d="M838.0,1233.1 L841.1,1234.0"/><path d="M843.4,1237.6 L846.1,1242.1"/><path d="M849.7,1248.4 L851.5,1251.1"/><path d="M889.3,1255.6 L892.0,1256.5 L890.2,1258.3 L889.3,1255.6"/><path d="M969.4,1259.2 L972.1,1258.3 L971.2,1260.5 L969.4,1259.2"/><path d="M976.6,1256.5 L983.8,1255.6 L988.3,1259.2 L985.6,1261.0 L976.6,1258.3 L976.6,1256.5"/><path d="M961.3,1251.5 L964.0,1252.0"/><path d="M985.6,1244.8 L992.8,1244.8 L996.4,1246.6 L1000.0,1248.4"/><path d="M937.1,1134.2 L931.0,1138.8 L920.1,1143.5 L913.9,1145.0 L906.1,1148.2 L900.0,1151.2 L896.9,1148.2 L892.2,1148.2 L886.0,1152.8 L880.6,1159.0 L879.8,1163.7 L886.0,1168.3 L892.2,1174.5 L895.3,1180.7 L895.3,1190.0 L892.2,1196.2 L886.0,1199.3 L879.8,1204.0 L876.7,1207.0 L873.6,1200.8 L869.0,1194.7 L862.8,1188.5 L856.5,1185.3 L855.0,1186.9"/><path d="M892.2,1159.0 L896.9,1155.9 L901.5,1155.1 L902.3,1159.0 L898.4,1163.7 L893.8,1164.4 L892.2,1159.0"/><path d="M941.8,1135.0 L949.5,1134.2 L948.0,1143.5 L944.9,1146.6 L941.8,1140.4 L941.8,1135.0"/><path d="M943.4,1163.7 L948.0,1162.1 L952.6,1165.2 L951.9,1174.5 L948.0,1179.2 L954.2,1183.8 L963.5,1190.0 L966.6,1197.8 L969.7,1207.0 L968.1,1216.3 L965.0,1219.5 L960.4,1216.3 L955.8,1208.6 L951.1,1199.3 L944.9,1186.9 L941.8,1177.6 L941.0,1171.4 L943.4,1163.7"/><path d="M949.5,1183.8 L955.8,1186.9 L962.0,1194.7 L963.5,1202.4 L957.3,1200.8 L951.1,1193.1 L949.5,1183.8"/><path d="M985.2,1244.2 L994.5,1245.8 L1000.7,1250.5 L1008.5,1255.1 L1017.8,1252.0 L1025.5,1253.5 L1041.0,1258.2 L1048.8,1261.3 L1053.4,1267.5 L1064.2,1270.6 L1072.0,1269.0 L1078.2,1262.8 L1075.1,1256.7 L1081.3,1259.8 L1084.4,1262.8 L1079.8,1267.5 L1073.5,1270.6 L1064.2,1273.7 L1058.0,1275.2 L1062.7,1281.5 L1068.9,1286.1 L1073.5,1289.2 L1064.2,1287.7 L1055.0,1284.5 L1047.2,1276.8 L1041.0,1281.5 L1034.8,1281.5 L1025.5,1276.8 L1020.9,1273.7 L1016.2,1266.0 L1010.0,1262.8 L1003.8,1259.8 L997.6,1255.1 L991.4,1250.5 L985.2,1244.2"/><path d="M913.9,1354.3 L914.7,1345.0 L920.1,1340.3 L932.5,1334.2 L943.4,1329.5 L951.1,1323.3 L955.8,1318.7 L963.5,1307.8 L971.2,1304.7 L979.0,1307.8 L983.6,1306.2 L986.8,1298.5 L989.9,1293.8"/><path d="M1010.0,1298.5 L1010.0,1309.3 L1017.8,1314.0 L1025.5,1320.2 L1033.2,1318.7 L1036.3,1304.7 L1041.0,1297.0 L1045.7,1306.2 L1051.8,1314.0 L1055.0,1323.3 L1061.2,1329.5 L1068.9,1337.2 L1075.1,1345.0 L1079.8,1352.8 L1081.3,1355.5"/><path d="M1090.6,1267.5 L1095.2,1270.6 L1099.9,1275.2"/><path d="M1107.7,1279.9 L1115.4,1283.0 L1121.6,1289.2 L1124.7,1292.3"/><path d="M1103.0,1279.9 L1106.1,1281.5"/><path d="M1141.8,1307.8 L1146.4,1317.1"/><path d="M1132.5,1334.2 L1138.7,1338.0 L1144.8,1343.5 L1140.2,1341.9 L1132.5,1334.2"/><path d="M1008.5,1247.3 L1011.5,1248.9"/><path d="M1056.5,1252.0 L1058.0,1252.8"/><path d="M1003.0,1267.5 L1003.8,1273.7"/><path d="M989.9,1275.2 L991.4,1279.1"/><path d="M974.4,1235.0 L977.5,1236.5 L978.2,1242.7 L975.9,1247.3 L972.8,1242.7 L974.4,1235.0"/><path d="M1284.4,1147.4 L1289.8,1145.8"/><path d="M1293.7,1148.9 L1300.7,1151.2 L1304.6,1153.6 L1309.2,1158.2 L1304.6,1161.3 L1302.2,1157.5 L1300.7,1152.8"/><path d="M1187.5,1322.5 L1192.2,1320.2 L1195.3,1317.9 L1200.0,1316.3"/><path d="M1189.1,1319.4 L1193.8,1321.8 L1190.7,1323.6 L1188.3,1321.8 L1189.1,1319.4"/><path d="M1230.2,1302.8 L1237.2,1304.7"/><path d="M1330.2,1320.7 L1332.5,1322.5"/><path d="M1491.0,1135.2 L1498.2,1137.0 L1503.6,1140.6 L1501.8,1143.3 L1496.4,1138.8 L1491.0,1135.2"/><path d="M1509.0,1135.2 L1516.2,1142.4 L1521.6,1149.6 L1519.8,1156.8 L1527.0,1162.2 L1534.2,1165.8 L1541.4,1169.4 L1552.2,1173.9 L1559.4,1175.7 L1566.6,1173.0 L1573.8,1178.4 L1581.0,1182.0 L1591.8,1185.6 L1599.0,1189.2 L1604.4,1196.4 L1608.0,1200.0 L1613.4,1203.6 L1617.0,1207.2 L1624.2,1210.8 L1627.8,1212.6 L1631.4,1205.4 L1635.0,1203.6 L1638.6,1207.2 L1642.2,1214.4 L1642.2,1225.2 L1638.6,1232.4 L1635.0,1236.0 L1631.4,1241.4 L1627.8,1246.8 L1627.8,1254.0 L1629.6,1257.6 L1624.2,1263.0 L1626.0,1270.2 L1631.4,1277.4 L1635.0,1282.8 L1638.6,1290.0 L1642.2,1297.2 L1645.8,1304.4 L1653.0,1311.6 L1662.0,1315.2 L1669.2,1322.4 L1672.8,1329.6 L1672.8,1344.0 L1671.0,1354.8"/><path d="M1554.9,1135.2 L1554.0,1144.2 L1557.6,1153.2 L1563.0,1160.4 L1570.2,1164.0 L1581.0,1160.4 L1584.6,1153.2 L1588.2,1149.6 L1600.8,1149.6 L1599.0,1156.8 L1595.4,1165.8 L1593.6,1174.8 L1604.4,1175.7 L1613.4,1177.5 L1617.0,1183.8 L1615.2,1192.8 L1618.8,1200.0 L1627.8,1203.6 L1633.2,1203.6 L1636.8,1204.5 L1644.0,1208.1 L1649.4,1200.0 L1653.0,1196.4 L1662.0,1192.8 L1667.4,1191.0 L1678.2,1192.8 L1681.8,1198.2 L1692.6,1200.0 L1703.4,1198.2 L1710.6,1198.2 L1714.2,1205.4 L1721.4,1210.8 L1728.6,1218.0 L1739.4,1218.0 L1746.6,1221.6 L1753.8,1228.8 L1757.4,1236.0 L1759.2,1239.6 L1757.4,1246.8 L1761.0,1245.0 L1768.2,1246.8 L1779.0,1250.4 L1788.0,1254.0 L1800.6,1255.8 L1807.8,1259.4 L1810.5,1264.8"/><path d="M1810.5,1300.8 L1807.8,1304.4 L1806.0,1315.2 L1802.4,1329.6 L1797.0,1340.4 L1786.2,1347.6 L1779.0,1351.2 L1771.8,1354.8"/><path d="M1609.8,1147.8 L1617.0,1142.4 L1627.8,1141.5 L1635.0,1144.2 L1644.0,1149.6 L1653.0,1153.2 L1653.0,1156.8 L1645.8,1156.8 L1635.0,1151.4 L1624.2,1146.0 L1617.0,1147.8 L1609.8,1147.8"/><path d="M1660.2,1156.8 L1667.4,1156.8 L1674.6,1160.4 L1680.0,1162.2 L1676.4,1164.0 L1667.4,1165.8 L1660.2,1164.0 L1654.8,1164.0 L1660.2,1156.8"/><path d="M1638.6,1164.0 L1644.0,1164.0 L1645.8,1166.7 L1640.4,1166.7 L1638.6,1164.0"/><path d="M1685.4,1164.0 L1692.6,1164.0 L1690.8,1166.7 L1685.4,1165.8 L1685.4,1164.0"/><path d="M1636.8,1135.2 L1640.4,1138.8"/><path d="M1649.4,1140.6 L1653.0,1144.2"/><path d="M1656.6,1145.1 L1660.2,1146.0"/><path d="M1663.8,1146.9 L1667.4,1148.7"/><path d="M1707.9,1173.0 L1710.6,1173.9"/><path d="M1711.5,1179.3 L1712.8,1181.1"/><path d="M1581.0,1245.0 L1583.2,1248.6"/><path d="M1665.6,1191.0 L1668.3,1192.8"/><path d="M1666.5,1200.0 L1667.4,1205.4"/></g></g>
<g id="orbit"><path d="M258.9,1234.9 L295.3,1214.8 L357.3,1199.3 L410.0,1196.2 L441.0,1197.0 L487.5,1200.9 L555.0,1204.0 L613.9,1212.5 L655.7,1214.0 L694.5,1213.2 L733.3,1209.4 L764.2,1210.2 L795.2,1207.8 L865.0,1208.6 L909.2,1210.2 L971.3,1210.2 L1017.7,1208.6 L1064.3,1209.4 L1110.7,1217.9 L1165.0,1225.6 L1217.0,1233.4 L1294.5,1245.0 L1341.0,1251.2 L1403.0,1259.7 L1455.0,1265.7 L1509.0,1275.6 L1581.0,1290.0 L1644.0,1297.2 L1716.0,1282.8 L1761.0,1257.6 L1810.5,1234.2" fill="none" stroke="#00f010" stroke-width="6.2" stroke-linejoin="round"/><path d="M260.4,1202.4 C267.2,1201.2 286.4,1197.3 301.5,1195.4 C316.6,1193.5 333.0,1192.1 351.1,1190.8 C369.2,1189.5 393.2,1188.3 410.0,1187.7 C426.8,1187.1 437.4,1187.0 451.9,1187.4 C466.4,1187.8 479.6,1188.7 496.8,1190.0 C514.0,1191.3 531.0,1192.3 555.0,1195.4 C579.0,1198.5 610.8,1202.8 641.0,1208.6 C671.2,1214.4 719.5,1226.4 736.4,1230.3 C753.3,1234.2 739.1,1231.0 742.5,1231.9 C745.9,1232.8 752.0,1234.6 756.5,1235.7 C761.0,1236.8 765.2,1237.8 769.7,1238.8 C774.2,1239.8 779.0,1240.9 783.6,1241.9 C788.2,1242.9 793.1,1243.8 797.6,1245.0 C802.1,1246.2 806.3,1247.7 810.8,1248.9 C815.3,1250.1 820.1,1250.8 824.7,1252.0 C829.4,1253.2 834.2,1254.7 838.7,1255.9 C843.2,1257.1 847.3,1257.8 851.8,1259.0 C856.3,1260.2 861.2,1261.6 865.9,1262.8 C870.6,1264.0 875.1,1265.0 879.8,1266.0 C884.4,1267.0 889.1,1268.0 893.8,1269.0 C898.4,1270.0 903.1,1271.2 907.7,1272.2 C912.4,1273.2 917.1,1274.4 921.7,1275.3 C926.4,1276.2 931.0,1276.7 935.6,1277.6 C940.2,1278.5 945.0,1279.8 949.6,1280.7 C954.2,1281.6 958.9,1282.2 963.5,1283.0 C968.1,1283.8 972.8,1284.5 977.4,1285.3 C982.0,1286.1 986.8,1286.8 991.4,1287.6 C996.0,1288.4 1000.6,1289.2 1005.3,1290.0 C1009.9,1290.8 1014.6,1291.6 1019.3,1292.3 C1023.9,1293.0 1028.5,1293.4 1033.2,1293.9 C1037.9,1294.4 1042.6,1294.9 1047.2,1295.4 C1051.8,1295.9 1056.4,1296.5 1061.1,1297.0 C1065.8,1297.5 1070.4,1298.1 1075.1,1298.5 C1079.8,1298.9 1084.3,1299.0 1089.0,1299.3 C1093.7,1299.5 1098.3,1299.8 1103.0,1300.0 C1107.7,1300.2 1112.3,1300.7 1117.0,1300.8 C1121.7,1300.9 1126.2,1300.8 1130.9,1300.8 C1135.6,1300.8 1140.2,1300.8 1144.9,1300.8 C1149.6,1300.8 1154.2,1300.8 1158.8,1300.8 C1163.4,1300.8 1168.1,1300.6 1172.7,1300.5 C1177.3,1300.4 1181.8,1300.2 1186.6,1300.0 C1191.4,1299.8 1198.1,1299.4 1201.5,1299.3 C1204.9,1299.2 1206.1,1299.3 1207.0,1299.3" fill="none" stroke="#a81828" stroke-width="1.2"/><path d="M1211.6,1299.3 C1220.2,1298.0 1241.9,1294.2 1263.5,1291.5 C1285.1,1288.8 1317.8,1286.3 1341.0,1283.0 C1364.2,1279.7 1384.0,1275.6 1403.0,1271.4 C1422.0,1267.2 1437.0,1262.1 1455.0,1257.6 C1473.0,1253.1 1501.5,1246.8 1510.8,1244.6" fill="none" stroke="#a81828" stroke-width="1.2"/><path d="M1617.0,1244.6 C1649.2,1237.5 1778.2,1208.9 1810.5,1201.8" fill="none" stroke="#a81828" stroke-width="1.2"/><path d="M737.0,1230.5 L742.5,1231.9 L756.5,1235.7 L769.7,1238.8 L783.6,1241.9 L797.6,1245.0 L810.8,1248.9 L824.7,1252.0 L838.7,1255.9 L851.8,1259.0 L865.9,1262.8 L879.8,1266.0 L893.8,1269.0 L907.7,1272.2 L921.7,1275.3 L935.6,1277.6 L949.6,1280.7 L963.5,1283.0 L977.4,1285.3 L991.4,1287.6 L1005.3,1290.0 L1019.3,1292.3 L1033.2,1293.9 L1047.2,1295.4 L1061.1,1297.0 L1075.1,1298.5 L1089.0,1299.3 L1103.0,1300.0 L1117.0,1300.8 L1130.9,1300.8 L1144.9,1300.8 L1158.8,1300.8 L1172.7,1300.5 L1186.6,1300.0 L1201.5,1299.3 L1207.0,1299.3" fill="none" stroke="#f01414" stroke-width="12.5" stroke-dasharray="11.0 3.131"/><line x1="1211.6" y1="1294.5" x2="1211.6" y2="1304.5" stroke="#a81828" stroke-width="1.5"/><path d="M1048.0,1177.5 L1049.8,1182.6 L1055.1,1182.7 L1050.9,1185.9 L1052.4,1191.1 L1048.0,1188.0 L1043.6,1191.1 L1045.1,1185.9 L1040.9,1182.7 L1046.2,1182.6Z" fill="none" stroke="#c030d0" stroke-width="1.1"/><path d="M1145.6,1194.9 L1147.4,1200.0 L1152.7,1200.1 L1148.5,1203.3 L1150.0,1208.5 L1145.6,1205.4 L1141.2,1208.5 L1142.7,1203.3 L1138.5,1200.1 L1143.8,1200.0Z" fill="none" stroke="#c030d0" stroke-width="1.1"/><path d="M1296.8,1227.5 L1298.6,1232.6 L1303.9,1232.7 L1299.7,1235.9 L1301.2,1241.1 L1296.8,1238.0 L1292.4,1241.1 L1293.9,1235.9 L1289.7,1232.7 L1295.0,1232.6Z" fill="none" stroke="#c030d0" stroke-width="1.1"/><path d="M1644.0,1288.5 L1645.8,1293.6 L1651.1,1293.7 L1646.9,1296.9 L1648.4,1302.1 L1644.0,1299.0 L1639.6,1302.1 L1641.1,1296.9 L1636.9,1293.7 L1642.2,1293.6Z" fill="none" stroke="#c030d0" stroke-width="1.1"/><path d="M1784.4,1248.5 L1786.2,1253.6 L1791.5,1253.7 L1787.3,1256.9 L1788.8,1262.1 L1784.4,1259.0 L1780.0,1262.1 L1781.5,1256.9 L1777.3,1253.7 L1782.6,1253.6Z" fill="none" stroke="#c030d0" stroke-width="1.1"/></g>
<g><line x1="260" y1="1179.5" x2="275" y2="1179.5" stroke="#000" stroke-width="1" shape-rendering="crispEdges"/><line x1="1795" y1="1179.5" x2="1810" y2="1179.5" stroke="#000" stroke-width="1" shape-rendering="crispEdges"/><line x1="260" y1="1244.5" x2="275" y2="1244.5" stroke="#000" stroke-width="1" shape-rendering="crispEdges"/><line x1="1795" y1="1244.5" x2="1810" y2="1244.5" stroke="#000" stroke-width="1" shape-rendering="crispEdges"/><line x1="260" y1="1309.5" x2="275" y2="1309.5" stroke="#000" stroke-width="1" shape-rendering="crispEdges"/><line x1="1795" y1="1309.5" x2="1810" y2="1309.5" stroke="#000" stroke-width="1" shape-rendering="crispEdges"/><line x1="441.5" y1="1133" x2="441.5" y2="1148" stroke="#000" stroke-width="1" shape-rendering="crispEdges"/><line x1="441.5" y1="1340" x2="441.5" y2="1355" stroke="#000" stroke-width="1" shape-rendering="crispEdges"/><line x1="621.5" y1="1133" x2="621.5" y2="1148" stroke="#000" stroke-width="1" shape-rendering="crispEdges"/><line x1="621.5" y1="1340" x2="621.5" y2="1355" stroke="#000" stroke-width="1" shape-rendering="crispEdges"/><line x1="802.5" y1="1133" x2="802.5" y2="1148" stroke="#000" stroke-width="1" shape-rendering="crispEdges"/><line x1="802.5" y1="1340" x2="802.5" y2="1355" stroke="#000" stroke-width="1" shape-rendering="crispEdges"/><line x1="982.5" y1="1133" x2="982.5" y2="1148" stroke="#000" stroke-width="1" shape-rendering="crispEdges"/><line x1="982.5" y1="1340" x2="982.5" y2="1355" stroke="#000" stroke-width="1" shape-rendering="crispEdges"/><line x1="1163.5" y1="1133" x2="1163.5" y2="1148" stroke="#000" stroke-width="1" shape-rendering="crispEdges"/><line x1="1163.5" y1="1340" x2="1163.5" y2="1355" stroke="#000" stroke-width="1" shape-rendering="crispEdges"/><line x1="1343.5" y1="1133" x2="1343.5" y2="1148" stroke="#000" stroke-width="1" shape-rendering="crispEdges"/><line x1="1343.5" y1="1340" x2="1343.5" y2="1355" stroke="#000" stroke-width="1" shape-rendering="crispEdges"/><line x1="1628.5" y1="1133" x2="1628.5" y2="1148" stroke="#000" stroke-width="1" shape-rendering="crispEdges"/><line x1="1628.5" y1="1340" x2="1628.5" y2="1355" stroke="#000" stroke-width="1" shape-rendering="crispEdges"/></g>
<rect x="260.5" y="1133.5" width="1550" height="222" fill="none" stroke="#000" stroke-width="1" shape-rendering="crispEdges"/>
<text x="218.5" y="1192.2" text-anchor="end" font-size="27.5">15</text>
<circle cx="225.5" cy="1173.9" r="4.8" fill="none" stroke="#000" stroke-width="1.7"/>
<text x="231.8" y="1192.2" font-size="27.5">N</text>
<text x="229.5" y="1257.0" text-anchor="end" font-size="27.5">0</text>
<circle cx="237.5" cy="1238.7" r="4.8" fill="none" stroke="#000" stroke-width="1.7"/>
<text x="218.5" y="1321.8" text-anchor="end" font-size="27.5">15</text>
<circle cx="226.5" cy="1303.5" r="4.8" fill="none" stroke="#000" stroke-width="1.7"/>
<text x="232.8" y="1321.8" font-size="27.5">S</text>
<text x="216.2" y="1401.75" font-size="27.5" letter-spacing="0.4">GLON</text>
<text x="441" y="1401.75" text-anchor="middle" font-size="27.5" letter-spacing="0.4" xml:space="preserve">003.8</text>
<text x="621.4" y="1401.75" text-anchor="middle" font-size="27.5" letter-spacing="0.4" xml:space="preserve">045.8</text>
<text x="801.8" y="1401.75" text-anchor="middle" font-size="27.5" letter-spacing="0.4" xml:space="preserve">087.6</text>
<text x="982.2" y="1401.75" text-anchor="middle" font-size="27.5" letter-spacing="0.4" xml:space="preserve">129.3</text>
<text x="1162.6" y="1401.75" text-anchor="middle" font-size="27.5" letter-spacing="0.4" xml:space="preserve">171.2</text>
<text x="1343" y="1401.75" text-anchor="middle" font-size="27.5" letter-spacing="0.4" xml:space="preserve">213.2</text>
<text x="1628.5" y="1401.75" text-anchor="middle" font-size="27.5" letter-spacing="0.4" xml:space="preserve">279.5</text>
<text x="1809" y="1401.75" text-anchor="middle" font-size="27.5" letter-spacing="0.4" xml:space="preserve">321.7</text>
<text x="218.7" y="1442.50" font-size="27.5" letter-spacing="0.4">GLAT</text>
<text x="441" y="1442.50" text-anchor="middle" font-size="27.5" letter-spacing="0.4" xml:space="preserve">+13.1</text>
<text x="621.4" y="1442.50" text-anchor="middle" font-size="27.5" letter-spacing="0.4" xml:space="preserve">+08.9</text>
<text x="801.8" y="1442.50" text-anchor="middle" font-size="27.5" letter-spacing="0.4" xml:space="preserve">-00.7</text>
<text x="982.2" y="1442.50" text-anchor="middle" font-size="27.5" letter-spacing="0.4" xml:space="preserve">-09.8</text>
<text x="1162.6" y="1442.50" text-anchor="middle" font-size="27.5" letter-spacing="0.4" xml:space="preserve">-13.1</text>
<text x="1343" y="1442.50" text-anchor="middle" font-size="27.5" letter-spacing="0.4" xml:space="preserve">-08.8</text>
<text x="1628.5" y="1442.50" text-anchor="middle" font-size="27.5" letter-spacing="0.4" xml:space="preserve">+00.6</text>
<text x="1809" y="1442.50" text-anchor="middle" font-size="27.5" letter-spacing="0.4" xml:space="preserve">+09.7</text>
<text x="222.7" y="1483.25" font-size="27.5" letter-spacing="0.4">GALT</text>
<text x="441" y="1483.25" text-anchor="middle" font-size="27.5" letter-spacing="0.4" xml:space="preserve"> 522</text>
<text x="621.4" y="1483.25" text-anchor="middle" font-size="27.5" letter-spacing="0.4" xml:space="preserve"> 687</text>
<text x="801.8" y="1483.25" text-anchor="middle" font-size="27.5" letter-spacing="0.4" xml:space="preserve"> 822</text>
<text x="982.2" y="1483.25" text-anchor="middle" font-size="27.5" letter-spacing="0.4" xml:space="preserve"> 834</text>
<text x="1162.6" y="1483.25" text-anchor="middle" font-size="27.5" letter-spacing="0.4" xml:space="preserve"> 718</text>
<text x="1343" y="1483.25" text-anchor="middle" font-size="27.5" letter-spacing="0.4" xml:space="preserve"> 550</text>
<text x="1628.5" y="1483.25" text-anchor="middle" font-size="27.5" letter-spacing="0.4" xml:space="preserve"> 423</text>
<text x="1809" y="1483.25" text-anchor="middle" font-size="27.5" letter-spacing="0.4" xml:space="preserve"> 415</text>
<text x="216.2" y="1524.00" font-size="27.5" letter-spacing="0.4">MLON</text>
<text x="441" y="1524.00" text-anchor="middle" font-size="27.5" letter-spacing="0.4" xml:space="preserve">076.1</text>
<text x="621.4" y="1524.00" text-anchor="middle" font-size="27.5" letter-spacing="0.4" xml:space="preserve">117.2</text>
<text x="801.8" y="1524.00" text-anchor="middle" font-size="27.5" letter-spacing="0.4" xml:space="preserve">158.5</text>
<text x="982.2" y="1524.00" text-anchor="middle" font-size="27.5" letter-spacing="0.4" xml:space="preserve">200.5</text>
<text x="1162.6" y="1524.00" text-anchor="middle" font-size="27.5" letter-spacing="0.4" xml:space="preserve">244.9</text>
<text x="1343" y="1524.00" text-anchor="middle" font-size="27.5" letter-spacing="0.4" xml:space="preserve">285.2</text>
<text x="1628.5" y="1524.00" text-anchor="middle" font-size="27.5" letter-spacing="0.4" xml:space="preserve">349.7</text>
<text x="1809" y="1524.00" text-anchor="middle" font-size="27.5" letter-spacing="0.4" xml:space="preserve">038.3</text>
<text x="220.2" y="1564.75" font-size="27.5" letter-spacing="0.4">MLAT</text>
<text x="441" y="1564.75" text-anchor="middle" font-size="27.5" letter-spacing="0.4" xml:space="preserve">-00.3</text>
<text x="621.4" y="1564.75" text-anchor="middle" font-size="27.5" letter-spacing="0.4" xml:space="preserve">-00.2</text>
<text x="801.8" y="1564.75" text-anchor="middle" font-size="27.5" letter-spacing="0.4" xml:space="preserve">-10.7</text>
<text x="982.2" y="1564.75" text-anchor="middle" font-size="27.5" letter-spacing="0.4" xml:space="preserve">-18.9</text>
<text x="1162.6" y="1564.75" text-anchor="middle" font-size="27.5" letter-spacing="0.4" xml:space="preserve">-17.9</text>
<text x="1343" y="1564.75" text-anchor="middle" font-size="27.5" letter-spacing="0.4" xml:space="preserve">-06.7</text>
<text x="1628.5" y="1564.75" text-anchor="middle" font-size="27.5" letter-spacing="0.4" xml:space="preserve">+12.2</text>
<text x="1809" y="1564.75" text-anchor="middle" font-size="27.5" letter-spacing="0.4" xml:space="preserve">+10.8</text>
<text x="238.7" y="1605.50" font-size="27.5" letter-spacing="0.4">UT</text>
<text x="441" y="1605.50" text-anchor="middle" font-size="27.5" letter-spacing="0.4" xml:space="preserve">14:28</text>
<text x="621.4" y="1605.50" text-anchor="middle" font-size="27.5" letter-spacing="0.4" xml:space="preserve">14:40</text>
<text x="801.8" y="1605.50" text-anchor="middle" font-size="27.5" letter-spacing="0.4" xml:space="preserve">14:53</text>
<text x="982.2" y="1605.50" text-anchor="middle" font-size="27.5" letter-spacing="0.4" xml:space="preserve">15:06</text>
<text x="1162.6" y="1605.50" text-anchor="middle" font-size="27.5" letter-spacing="0.4" xml:space="preserve">15:19</text>
<text x="1343" y="1605.50" text-anchor="middle" font-size="27.5" letter-spacing="0.4" xml:space="preserve">15:31</text>
<text x="1628.5" y="1605.50" text-anchor="middle" font-size="27.5" letter-spacing="0.4" xml:space="preserve">14:06</text>
<text x="1809" y="1605.50" text-anchor="middle" font-size="27.5" letter-spacing="0.4" xml:space="preserve">14:17</text>
<text x="225.7" y="1646.25" font-size="27.5" letter-spacing="0.4">SLT</text>
<text x="441" y="1646.25" text-anchor="middle" font-size="27.5" letter-spacing="0.4" xml:space="preserve">15:00</text>
<text x="621.4" y="1646.25" text-anchor="middle" font-size="27.5" letter-spacing="0.4" xml:space="preserve">18:00</text>
<text x="801.8" y="1646.25" text-anchor="middle" font-size="27.5" letter-spacing="0.4" xml:space="preserve">21:00</text>
<text x="982.2" y="1646.25" text-anchor="middle" font-size="27.5" letter-spacing="0.4" xml:space="preserve">00:00</text>
<text x="1162.6" y="1646.25" text-anchor="middle" font-size="27.5" letter-spacing="0.4" xml:space="preserve">03:00</text>
<text x="1343" y="1646.25" text-anchor="middle" font-size="27.5" letter-spacing="0.4" xml:space="preserve">06:00</text>
<text x="1628.5" y="1646.25" text-anchor="middle" font-size="27.5" letter-spacing="0.4" xml:space="preserve">09:00</text>
<text x="1809" y="1646.25" text-anchor="middle" font-size="27.5" letter-spacing="0.4" xml:space="preserve">12:00</text>
<text class="xs" transform="translate(1899.8,1662.4) rotate(-90)" font-size="21.3" xml:space="preserve">Preliminary corrected calibration,  2/11/09</text>
<text class="xs" transform="translate(1925,1662.4) rotate(-90)" font-size="21.3">Produced 19-Feb-2009 12:21:02</text>
</svg>
</body></html>
